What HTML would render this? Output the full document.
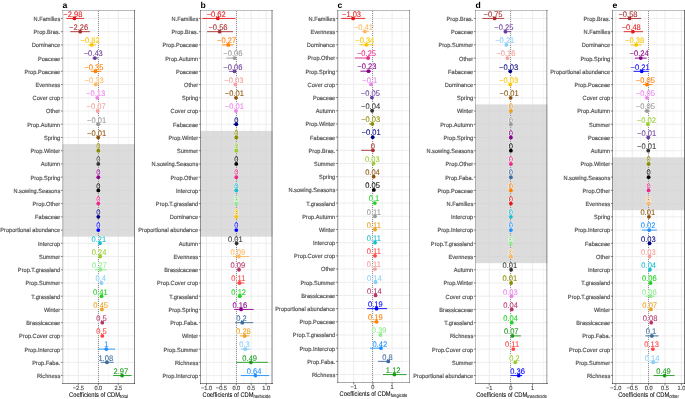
<!DOCTYPE html><html><head><meta charset="utf-8"><style>html,body{margin:0;padding:0;background:#fff;overflow:hidden;width:685px;height:399px;}svg{display:block;will-change:transform;}text{font-family:"Liberation Sans",sans-serif;text-rendering:geometricPrecision;}</style></head><body>
<svg width="685" height="399" viewBox="0 0 685 399">
<rect x="0" y="0" width="685" height="399" fill="#fff"/>
<line x1="68.30" y1="10.5" x2="68.30" y2="383.5" stroke="#f2f2f2" stroke-width="0.6"/>
<line x1="88.30" y1="10.5" x2="88.30" y2="383.5" stroke="#f2f2f2" stroke-width="0.6"/>
<line x1="108.30" y1="10.5" x2="108.30" y2="383.5" stroke="#f2f2f2" stroke-width="0.6"/>
<line x1="128.30" y1="10.5" x2="128.30" y2="383.5" stroke="#f2f2f2" stroke-width="0.6"/>
<line x1="78.30" y1="10.5" x2="78.30" y2="383.5" stroke="#ebebeb" stroke-width="0.9"/>
<line x1="98.30" y1="10.5" x2="98.30" y2="383.5" stroke="#ebebeb" stroke-width="0.9"/>
<line x1="118.30" y1="10.5" x2="118.30" y2="383.5" stroke="#ebebeb" stroke-width="0.9"/>
<line x1="62.5" y1="18.44" x2="134.5" y2="18.44" stroke="#ebebeb" stroke-width="0.9"/>
<line x1="62.5" y1="31.66" x2="134.5" y2="31.66" stroke="#ebebeb" stroke-width="0.9"/>
<line x1="62.5" y1="44.89" x2="134.5" y2="44.89" stroke="#ebebeb" stroke-width="0.9"/>
<line x1="62.5" y1="58.12" x2="134.5" y2="58.12" stroke="#ebebeb" stroke-width="0.9"/>
<line x1="62.5" y1="71.34" x2="134.5" y2="71.34" stroke="#ebebeb" stroke-width="0.9"/>
<line x1="62.5" y1="84.57" x2="134.5" y2="84.57" stroke="#ebebeb" stroke-width="0.9"/>
<line x1="62.5" y1="97.80" x2="134.5" y2="97.80" stroke="#ebebeb" stroke-width="0.9"/>
<line x1="62.5" y1="111.02" x2="134.5" y2="111.02" stroke="#ebebeb" stroke-width="0.9"/>
<line x1="62.5" y1="124.25" x2="134.5" y2="124.25" stroke="#ebebeb" stroke-width="0.9"/>
<line x1="62.5" y1="137.48" x2="134.5" y2="137.48" stroke="#ebebeb" stroke-width="0.9"/>
<line x1="62.5" y1="150.71" x2="134.5" y2="150.71" stroke="#ebebeb" stroke-width="0.9"/>
<line x1="62.5" y1="163.93" x2="134.5" y2="163.93" stroke="#ebebeb" stroke-width="0.9"/>
<line x1="62.5" y1="177.16" x2="134.5" y2="177.16" stroke="#ebebeb" stroke-width="0.9"/>
<line x1="62.5" y1="190.39" x2="134.5" y2="190.39" stroke="#ebebeb" stroke-width="0.9"/>
<line x1="62.5" y1="203.61" x2="134.5" y2="203.61" stroke="#ebebeb" stroke-width="0.9"/>
<line x1="62.5" y1="216.84" x2="134.5" y2="216.84" stroke="#ebebeb" stroke-width="0.9"/>
<line x1="62.5" y1="230.07" x2="134.5" y2="230.07" stroke="#ebebeb" stroke-width="0.9"/>
<line x1="62.5" y1="243.29" x2="134.5" y2="243.29" stroke="#ebebeb" stroke-width="0.9"/>
<line x1="62.5" y1="256.52" x2="134.5" y2="256.52" stroke="#ebebeb" stroke-width="0.9"/>
<line x1="62.5" y1="269.75" x2="134.5" y2="269.75" stroke="#ebebeb" stroke-width="0.9"/>
<line x1="62.5" y1="282.98" x2="134.5" y2="282.98" stroke="#ebebeb" stroke-width="0.9"/>
<line x1="62.5" y1="296.20" x2="134.5" y2="296.20" stroke="#ebebeb" stroke-width="0.9"/>
<line x1="62.5" y1="309.43" x2="134.5" y2="309.43" stroke="#ebebeb" stroke-width="0.9"/>
<line x1="62.5" y1="322.66" x2="134.5" y2="322.66" stroke="#ebebeb" stroke-width="0.9"/>
<line x1="62.5" y1="335.88" x2="134.5" y2="335.88" stroke="#ebebeb" stroke-width="0.9"/>
<line x1="62.5" y1="349.11" x2="134.5" y2="349.11" stroke="#ebebeb" stroke-width="0.9"/>
<line x1="62.5" y1="362.34" x2="134.5" y2="362.34" stroke="#ebebeb" stroke-width="0.9"/>
<line x1="62.5" y1="375.56" x2="134.5" y2="375.56" stroke="#ebebeb" stroke-width="0.9"/>
<rect x="62.5" y="144.09" width="72" height="92.59" fill="#d0d0d0" fill-opacity="0.75"/>
<line x1="98.5" y1="11" x2="98.5" y2="383.5" stroke="#909090" stroke-width="1" stroke-dasharray="1,1"/>
<text transform="translate(72.86,16.74) scale(1,1.08)" font-size="7.55" fill="#fff" fill-opacity="0.85" stroke="#fff" stroke-width="1.1" stroke-opacity="0.85" stroke-linejoin="round" text-anchor="middle">−2.98</text>
<text transform="translate(72.86,16.74) scale(1,1.08)" font-size="7.55" fill="#E31A1C" stroke="#E31A1C" stroke-width="0.08" text-anchor="middle">−2.98</text>
<text transform="translate(78.62,29.96) scale(1,1.08)" font-size="7.55" fill="#fff" fill-opacity="0.85" stroke="#fff" stroke-width="1.1" stroke-opacity="0.85" stroke-linejoin="round" text-anchor="middle">−2.26</text>
<text transform="translate(78.62,29.96) scale(1,1.08)" font-size="7.55" fill="#A82E30" stroke="#A82E30" stroke-width="0.08" text-anchor="middle">−2.26</text>
<text transform="translate(90.14,43.19) scale(1,1.08)" font-size="7.55" fill="#fff" fill-opacity="0.85" stroke="#fff" stroke-width="1.1" stroke-opacity="0.85" stroke-linejoin="round" text-anchor="middle">−0.82</text>
<text transform="translate(90.14,43.19) scale(1,1.08)" font-size="7.55" fill="#F7C600" stroke="#F7C600" stroke-width="0.08" text-anchor="middle">−0.82</text>
<text transform="translate(93.26,56.42) scale(1,1.08)" font-size="7.55" fill="#fff" fill-opacity="0.85" stroke="#fff" stroke-width="1.1" stroke-opacity="0.85" stroke-linejoin="round" text-anchor="middle">−0.43</text>
<text transform="translate(93.26,56.42) scale(1,1.08)" font-size="7.55" fill="#6A3D9A" stroke="#6A3D9A" stroke-width="0.08" text-anchor="middle">−0.43</text>
<text transform="translate(93.90,69.64) scale(1,1.08)" font-size="7.55" fill="#fff" fill-opacity="0.85" stroke="#fff" stroke-width="1.1" stroke-opacity="0.85" stroke-linejoin="round" text-anchor="middle">−0.35</text>
<text transform="translate(93.90,69.64) scale(1,1.08)" font-size="7.55" fill="#FF7F00" stroke="#FF7F00" stroke-width="0.08" text-anchor="middle">−0.35</text>
<text transform="translate(94.06,82.87) scale(1,1.08)" font-size="7.55" fill="#fff" fill-opacity="0.85" stroke="#fff" stroke-width="1.1" stroke-opacity="0.85" stroke-linejoin="round" text-anchor="middle">−0.33</text>
<text transform="translate(94.06,82.87) scale(1,1.08)" font-size="7.55" fill="#FDB863" stroke="#FDB863" stroke-width="0.08" text-anchor="middle">−0.33</text>
<text transform="translate(95.66,96.10) scale(1,1.08)" font-size="7.55" fill="#fff" fill-opacity="0.85" stroke="#fff" stroke-width="1.1" stroke-opacity="0.85" stroke-linejoin="round" text-anchor="middle">−0.13</text>
<text transform="translate(95.66,96.10) scale(1,1.08)" font-size="7.55" fill="#EE82EE" stroke="#EE82EE" stroke-width="0.08" text-anchor="middle">−0.13</text>
<text transform="translate(96.14,109.32) scale(1,1.08)" font-size="7.55" fill="#fff" fill-opacity="0.85" stroke="#fff" stroke-width="1.1" stroke-opacity="0.85" stroke-linejoin="round" text-anchor="middle">−0.07</text>
<text transform="translate(96.14,109.32) scale(1,1.08)" font-size="7.55" fill="#F4A09C" stroke="#F4A09C" stroke-width="0.08" text-anchor="middle">−0.07</text>
<text transform="translate(96.62,122.55) scale(1,1.08)" font-size="7.55" fill="#fff" fill-opacity="0.85" stroke="#fff" stroke-width="1.1" stroke-opacity="0.85" stroke-linejoin="round" text-anchor="middle">−0.01</text>
<text transform="translate(96.62,122.55) scale(1,1.08)" font-size="7.55" fill="#999999" stroke="#999999" stroke-width="0.08" text-anchor="middle">−0.01</text>
<text transform="translate(96.62,135.78) scale(1,1.08)" font-size="7.55" fill="#fff" fill-opacity="0.85" stroke="#fff" stroke-width="1.1" stroke-opacity="0.85" stroke-linejoin="round" text-anchor="middle">−0.01</text>
<text transform="translate(96.62,135.78) scale(1,1.08)" font-size="7.55" fill="#8C510A" stroke="#8C510A" stroke-width="0.08" text-anchor="middle">−0.01</text>
<text transform="translate(98.30,149.01) scale(1,1.08)" font-size="7.55" fill="#fff" fill-opacity="0.85" stroke="#fff" stroke-width="1.1" stroke-opacity="0.85" stroke-linejoin="round" text-anchor="middle">0</text>
<text transform="translate(98.30,149.01) scale(1,1.08)" font-size="7.55" fill="#8B8B00" stroke="#8B8B00" stroke-width="0.08" text-anchor="middle">0</text>
<text transform="translate(98.30,162.23) scale(1,1.08)" font-size="7.55" fill="#fff" fill-opacity="0.85" stroke="#fff" stroke-width="1.1" stroke-opacity="0.85" stroke-linejoin="round" text-anchor="middle">0</text>
<text transform="translate(98.30,162.23) scale(1,1.08)" font-size="7.55" fill="#333333" stroke="#333333" stroke-width="0.08" text-anchor="middle">0</text>
<text transform="translate(98.30,175.46) scale(1,1.08)" font-size="7.55" fill="#fff" fill-opacity="0.85" stroke="#fff" stroke-width="1.1" stroke-opacity="0.85" stroke-linejoin="round" text-anchor="middle">0</text>
<text transform="translate(98.30,175.46) scale(1,1.08)" font-size="7.55" fill="#8B008B" stroke="#8B008B" stroke-width="0.08" text-anchor="middle">0</text>
<text transform="translate(98.30,188.69) scale(1,1.08)" font-size="7.55" fill="#fff" fill-opacity="0.85" stroke="#fff" stroke-width="1.1" stroke-opacity="0.85" stroke-linejoin="round" text-anchor="middle">0</text>
<text transform="translate(98.30,188.69) scale(1,1.08)" font-size="7.55" fill="#000000" stroke="#000000" stroke-width="0.08" text-anchor="middle">0</text>
<text transform="translate(98.30,201.91) scale(1,1.08)" font-size="7.55" fill="#fff" fill-opacity="0.85" stroke="#fff" stroke-width="1.1" stroke-opacity="0.85" stroke-linejoin="round" text-anchor="middle">0</text>
<text transform="translate(98.30,201.91) scale(1,1.08)" font-size="7.55" fill="#E7298A" stroke="#E7298A" stroke-width="0.08" text-anchor="middle">0</text>
<text transform="translate(98.30,215.14) scale(1,1.08)" font-size="7.55" fill="#fff" fill-opacity="0.85" stroke="#fff" stroke-width="1.1" stroke-opacity="0.85" stroke-linejoin="round" text-anchor="middle">0</text>
<text transform="translate(98.30,215.14) scale(1,1.08)" font-size="7.55" fill="#000080" stroke="#000080" stroke-width="0.08" text-anchor="middle">0</text>
<text transform="translate(98.30,228.37) scale(1,1.08)" font-size="7.55" fill="#fff" fill-opacity="0.85" stroke="#fff" stroke-width="1.1" stroke-opacity="0.85" stroke-linejoin="round" text-anchor="middle">0</text>
<text transform="translate(98.30,228.37) scale(1,1.08)" font-size="7.55" fill="#0000FF" stroke="#0000FF" stroke-width="0.08" text-anchor="middle">0</text>
<text transform="translate(98.78,241.59) scale(1,1.08)" font-size="7.55" fill="#fff" fill-opacity="0.85" stroke="#fff" stroke-width="1.1" stroke-opacity="0.85" stroke-linejoin="round" text-anchor="middle">0.21</text>
<text transform="translate(98.78,241.59) scale(1,1.08)" font-size="7.55" fill="#17BECF" stroke="#17BECF" stroke-width="0.08" text-anchor="middle">0.21</text>
<text transform="translate(99.02,254.82) scale(1,1.08)" font-size="7.55" fill="#fff" fill-opacity="0.85" stroke="#fff" stroke-width="1.1" stroke-opacity="0.85" stroke-linejoin="round" text-anchor="middle">0.24</text>
<text transform="translate(99.02,254.82) scale(1,1.08)" font-size="7.55" fill="#9ACD32" stroke="#9ACD32" stroke-width="0.08" text-anchor="middle">0.24</text>
<text transform="translate(99.26,268.05) scale(1,1.08)" font-size="7.55" fill="#fff" fill-opacity="0.85" stroke="#fff" stroke-width="1.1" stroke-opacity="0.85" stroke-linejoin="round" text-anchor="middle">0.27</text>
<text transform="translate(99.26,268.05) scale(1,1.08)" font-size="7.55" fill="#90EE90" stroke="#90EE90" stroke-width="0.08" text-anchor="middle">0.27</text>
<text transform="translate(100.70,281.28) scale(1,1.08)" font-size="7.55" fill="#fff" fill-opacity="0.85" stroke="#fff" stroke-width="1.1" stroke-opacity="0.85" stroke-linejoin="round" text-anchor="middle">0.4</text>
<text transform="translate(100.70,281.28) scale(1,1.08)" font-size="7.55" fill="#87CEFA" stroke="#87CEFA" stroke-width="0.08" text-anchor="middle">0.4</text>
<text transform="translate(100.38,294.50) scale(1,1.08)" font-size="7.55" fill="#fff" fill-opacity="0.85" stroke="#fff" stroke-width="1.1" stroke-opacity="0.85" stroke-linejoin="round" text-anchor="middle">0.41</text>
<text transform="translate(100.38,294.50) scale(1,1.08)" font-size="7.55" fill="#1ED41E" stroke="#1ED41E" stroke-width="0.08" text-anchor="middle">0.41</text>
<text transform="translate(100.70,307.73) scale(1,1.08)" font-size="7.55" fill="#fff" fill-opacity="0.85" stroke="#fff" stroke-width="1.1" stroke-opacity="0.85" stroke-linejoin="round" text-anchor="middle">0.45</text>
<text transform="translate(100.70,307.73) scale(1,1.08)" font-size="7.55" fill="#EEA020" stroke="#EEA020" stroke-width="0.08" text-anchor="middle">0.45</text>
<text transform="translate(101.50,320.96) scale(1,1.08)" font-size="7.55" fill="#fff" fill-opacity="0.85" stroke="#fff" stroke-width="1.1" stroke-opacity="0.85" stroke-linejoin="round" text-anchor="middle">0.5</text>
<text transform="translate(101.50,320.96) scale(1,1.08)" font-size="7.55" fill="#B5356A" stroke="#B5356A" stroke-width="0.08" text-anchor="middle">0.5</text>
<text transform="translate(101.50,334.18) scale(1,1.08)" font-size="7.55" fill="#fff" fill-opacity="0.85" stroke="#fff" stroke-width="1.1" stroke-opacity="0.85" stroke-linejoin="round" text-anchor="middle">0.5</text>
<text transform="translate(101.50,334.18) scale(1,1.08)" font-size="7.55" fill="#FF4444" stroke="#FF4444" stroke-width="0.08" text-anchor="middle">0.5</text>
<text transform="translate(106.30,347.41) scale(1,1.08)" font-size="7.55" fill="#fff" fill-opacity="0.85" stroke="#fff" stroke-width="1.1" stroke-opacity="0.85" stroke-linejoin="round" text-anchor="middle">1</text>
<text transform="translate(106.30,347.41) scale(1,1.08)" font-size="7.55" fill="#1E90FF" stroke="#1E90FF" stroke-width="0.08" text-anchor="middle">1</text>
<text transform="translate(105.74,360.64) scale(1,1.08)" font-size="7.55" fill="#fff" fill-opacity="0.85" stroke="#fff" stroke-width="1.1" stroke-opacity="0.85" stroke-linejoin="round" text-anchor="middle">1.08</text>
<text transform="translate(105.74,360.64) scale(1,1.08)" font-size="7.55" fill="#3A6B9E" stroke="#3A6B9E" stroke-width="0.08" text-anchor="middle">1.08</text>
<text transform="translate(120.86,373.86) scale(1,1.08)" font-size="7.55" fill="#fff" fill-opacity="0.85" stroke="#fff" stroke-width="1.1" stroke-opacity="0.85" stroke-linejoin="round" text-anchor="middle">2.97</text>
<text transform="translate(120.86,373.86) scale(1,1.08)" font-size="7.55" fill="#1A9A1A" stroke="#1A9A1A" stroke-width="0.08" text-anchor="middle">2.97</text>
<line x1="66.30" y1="18.44" x2="83.98" y2="18.44" stroke="#E31A1C" stroke-width="0.9"/>
<circle cx="74.46" cy="18.44" r="1.9" fill="#E31A1C"/>
<line x1="70.30" y1="31.66" x2="89.98" y2="31.66" stroke="#A82E30" stroke-width="0.9"/>
<circle cx="80.22" cy="31.66" r="1.9" fill="#A82E30"/>
<line x1="88.38" y1="44.89" x2="95.98" y2="44.89" stroke="#F7C600" stroke-width="0.9"/>
<circle cx="91.74" cy="44.89" r="1.9" fill="#F7C600"/>
<line x1="92.46" y1="58.12" x2="97.98" y2="58.12" stroke="#6A3D9A" stroke-width="0.9"/>
<circle cx="94.86" cy="58.12" r="1.9" fill="#6A3D9A"/>
<line x1="90.78" y1="71.34" x2="101.34" y2="71.34" stroke="#FF7F00" stroke-width="0.9"/>
<circle cx="95.50" cy="71.34" r="1.9" fill="#FF7F00"/>
<line x1="93.66" y1="84.57" x2="98.54" y2="84.57" stroke="#FDB863" stroke-width="0.9"/>
<circle cx="95.66" cy="84.57" r="1.9" fill="#FDB863"/>
<line x1="96.70" y1="97.80" x2="97.90" y2="97.80" stroke="#EE82EE" stroke-width="0.9"/>
<circle cx="97.26" cy="97.80" r="1.9" fill="#EE82EE"/>
<line x1="97.10" y1="111.02" x2="98.30" y2="111.02" stroke="#F4A09C" stroke-width="0.9"/>
<circle cx="97.74" cy="111.02" r="1.9" fill="#F4A09C"/>
<line x1="95.90" y1="124.25" x2="100.46" y2="124.25" stroke="#999999" stroke-width="0.9"/>
<circle cx="98.22" cy="124.25" r="1.9" fill="#999999"/>
<line x1="97.66" y1="137.48" x2="98.78" y2="137.48" stroke="#8C510A" stroke-width="0.9"/>
<circle cx="98.22" cy="137.48" r="1.9" fill="#8C510A"/>
<circle cx="98.30" cy="150.71" r="1.9" fill="#8B8B00"/>
<circle cx="98.30" cy="163.93" r="1.9" fill="#333333"/>
<circle cx="98.30" cy="177.16" r="1.9" fill="#8B008B"/>
<circle cx="98.30" cy="190.39" r="1.9" fill="#000000"/>
<circle cx="98.30" cy="203.61" r="1.9" fill="#E7298A"/>
<circle cx="98.30" cy="216.84" r="1.9" fill="#000080"/>
<circle cx="98.30" cy="230.07" r="1.9" fill="#0000FF"/>
<line x1="99.26" y1="243.29" x2="100.70" y2="243.29" stroke="#17BECF" stroke-width="0.9"/>
<circle cx="99.98" cy="243.29" r="1.9" fill="#17BECF"/>
<line x1="99.50" y1="256.52" x2="100.94" y2="256.52" stroke="#9ACD32" stroke-width="0.9"/>
<circle cx="100.22" cy="256.52" r="1.9" fill="#9ACD32"/>
<line x1="94.94" y1="269.75" x2="106.86" y2="269.75" stroke="#90EE90" stroke-width="0.9"/>
<circle cx="100.46" cy="269.75" r="1.9" fill="#90EE90"/>
<line x1="99.90" y1="282.98" x2="103.10" y2="282.98" stroke="#87CEFA" stroke-width="0.9"/>
<circle cx="101.50" cy="282.98" r="1.9" fill="#87CEFA"/>
<line x1="100.94" y1="296.20" x2="102.22" y2="296.20" stroke="#1ED41E" stroke-width="0.9"/>
<circle cx="101.58" cy="296.20" r="1.9" fill="#1ED41E"/>
<line x1="100.70" y1="309.43" x2="103.10" y2="309.43" stroke="#EEA020" stroke-width="0.9"/>
<circle cx="101.90" cy="309.43" r="1.9" fill="#EEA020"/>
<line x1="101.66" y1="322.66" x2="102.94" y2="322.66" stroke="#B5356A" stroke-width="0.9"/>
<circle cx="102.30" cy="322.66" r="1.9" fill="#B5356A"/>
<line x1="101.66" y1="335.88" x2="102.94" y2="335.88" stroke="#FF4444" stroke-width="0.9"/>
<circle cx="102.30" cy="335.88" r="1.9" fill="#FF4444"/>
<line x1="97.98" y1="349.11" x2="115.10" y2="349.11" stroke="#1E90FF" stroke-width="0.9"/>
<circle cx="106.30" cy="349.11" r="1.9" fill="#1E90FF"/>
<line x1="100.78" y1="362.34" x2="113.66" y2="362.34" stroke="#3A6B9E" stroke-width="0.9"/>
<circle cx="106.94" cy="362.34" r="1.9" fill="#3A6B9E"/>
<line x1="113.18" y1="375.56" x2="131.58" y2="375.56" stroke="#1A9A1A" stroke-width="0.9"/>
<circle cx="122.06" cy="375.56" r="1.9" fill="#1A9A1A"/>
<text transform="translate(60.20,20.84) scale(1,1.06)" font-size="5.65" fill="#4d4d4d" stroke="#4d4d4d" stroke-width="0.15" text-anchor="end">N.Families</text>
<line x1="60.9" y1="18.44" x2="62.5" y2="18.44" stroke="#333" stroke-width="0.6"/>
<text transform="translate(60.20,34.06) scale(1,1.06)" font-size="5.65" fill="#4d4d4d" stroke="#4d4d4d" stroke-width="0.15" text-anchor="end">Prop.Bras.</text>
<line x1="60.9" y1="31.66" x2="62.5" y2="31.66" stroke="#333" stroke-width="0.6"/>
<text transform="translate(60.20,47.29) scale(1,1.06)" font-size="5.65" fill="#4d4d4d" stroke="#4d4d4d" stroke-width="0.15" text-anchor="end">Dominance</text>
<line x1="60.9" y1="44.89" x2="62.5" y2="44.89" stroke="#333" stroke-width="0.6"/>
<text transform="translate(60.20,60.52) scale(1,1.06)" font-size="5.65" fill="#4d4d4d" stroke="#4d4d4d" stroke-width="0.15" text-anchor="end">Poaceae</text>
<line x1="60.9" y1="58.12" x2="62.5" y2="58.12" stroke="#333" stroke-width="0.6"/>
<text transform="translate(60.20,73.74) scale(1,1.06)" font-size="5.65" fill="#4d4d4d" stroke="#4d4d4d" stroke-width="0.15" text-anchor="end">Prop.Poaceae</text>
<line x1="60.9" y1="71.34" x2="62.5" y2="71.34" stroke="#333" stroke-width="0.6"/>
<text transform="translate(60.20,86.97) scale(1,1.06)" font-size="5.65" fill="#4d4d4d" stroke="#4d4d4d" stroke-width="0.15" text-anchor="end">Evenness</text>
<line x1="60.9" y1="84.57" x2="62.5" y2="84.57" stroke="#333" stroke-width="0.6"/>
<text transform="translate(60.20,100.20) scale(1,1.06)" font-size="5.65" fill="#4d4d4d" stroke="#4d4d4d" stroke-width="0.15" text-anchor="end">Cover crop</text>
<line x1="60.9" y1="97.80" x2="62.5" y2="97.80" stroke="#333" stroke-width="0.6"/>
<text transform="translate(60.20,113.42) scale(1,1.06)" font-size="5.65" fill="#4d4d4d" stroke="#4d4d4d" stroke-width="0.15" text-anchor="end">Other</text>
<line x1="60.9" y1="111.02" x2="62.5" y2="111.02" stroke="#333" stroke-width="0.6"/>
<text transform="translate(60.20,126.65) scale(1,1.06)" font-size="5.65" fill="#4d4d4d" stroke="#4d4d4d" stroke-width="0.15" text-anchor="end">Prop.Autumn</text>
<line x1="60.9" y1="124.25" x2="62.5" y2="124.25" stroke="#333" stroke-width="0.6"/>
<text transform="translate(60.20,139.88) scale(1,1.06)" font-size="5.65" fill="#4d4d4d" stroke="#4d4d4d" stroke-width="0.15" text-anchor="end">Spring</text>
<line x1="60.9" y1="137.48" x2="62.5" y2="137.48" stroke="#333" stroke-width="0.6"/>
<text transform="translate(60.20,153.11) scale(1,1.06)" font-size="5.65" fill="#4d4d4d" stroke="#4d4d4d" stroke-width="0.15" text-anchor="end">Prop.Winter</text>
<line x1="60.9" y1="150.71" x2="62.5" y2="150.71" stroke="#333" stroke-width="0.6"/>
<text transform="translate(60.20,166.33) scale(1,1.06)" font-size="5.65" fill="#4d4d4d" stroke="#4d4d4d" stroke-width="0.15" text-anchor="end">Autumn</text>
<line x1="60.9" y1="163.93" x2="62.5" y2="163.93" stroke="#333" stroke-width="0.6"/>
<text transform="translate(60.20,179.56) scale(1,1.06)" font-size="5.65" fill="#4d4d4d" stroke="#4d4d4d" stroke-width="0.15" text-anchor="end">Prop.Spring</text>
<line x1="60.9" y1="177.16" x2="62.5" y2="177.16" stroke="#333" stroke-width="0.6"/>
<text transform="translate(60.20,192.79) scale(1,1.06)" font-size="5.65" fill="#4d4d4d" stroke="#4d4d4d" stroke-width="0.15" text-anchor="end">N.sowing.Seasons</text>
<line x1="60.9" y1="190.39" x2="62.5" y2="190.39" stroke="#333" stroke-width="0.6"/>
<text transform="translate(60.20,206.01) scale(1,1.06)" font-size="5.65" fill="#4d4d4d" stroke="#4d4d4d" stroke-width="0.15" text-anchor="end">Prop.Other</text>
<line x1="60.9" y1="203.61" x2="62.5" y2="203.61" stroke="#333" stroke-width="0.6"/>
<text transform="translate(60.20,219.24) scale(1,1.06)" font-size="5.65" fill="#4d4d4d" stroke="#4d4d4d" stroke-width="0.15" text-anchor="end">Fabaceae</text>
<line x1="60.9" y1="216.84" x2="62.5" y2="216.84" stroke="#333" stroke-width="0.6"/>
<text transform="translate(60.20,232.47) scale(1,1.06)" font-size="5.65" fill="#4d4d4d" stroke="#4d4d4d" stroke-width="0.15" text-anchor="end">Proportional abundance</text>
<line x1="60.9" y1="230.07" x2="62.5" y2="230.07" stroke="#333" stroke-width="0.6"/>
<text transform="translate(60.20,245.69) scale(1,1.06)" font-size="5.65" fill="#4d4d4d" stroke="#4d4d4d" stroke-width="0.15" text-anchor="end">Intercrop</text>
<line x1="60.9" y1="243.29" x2="62.5" y2="243.29" stroke="#333" stroke-width="0.6"/>
<text transform="translate(60.20,258.92) scale(1,1.06)" font-size="5.65" fill="#4d4d4d" stroke="#4d4d4d" stroke-width="0.15" text-anchor="end">Summer</text>
<line x1="60.9" y1="256.52" x2="62.5" y2="256.52" stroke="#333" stroke-width="0.6"/>
<text transform="translate(60.20,272.15) scale(1,1.06)" font-size="5.65" fill="#4d4d4d" stroke="#4d4d4d" stroke-width="0.15" text-anchor="end">Prop.T.grassland</text>
<line x1="60.9" y1="269.75" x2="62.5" y2="269.75" stroke="#333" stroke-width="0.6"/>
<text transform="translate(60.20,285.38) scale(1,1.06)" font-size="5.65" fill="#4d4d4d" stroke="#4d4d4d" stroke-width="0.15" text-anchor="end">Prop.Summer</text>
<line x1="60.9" y1="282.98" x2="62.5" y2="282.98" stroke="#333" stroke-width="0.6"/>
<text transform="translate(60.20,298.60) scale(1,1.06)" font-size="5.65" fill="#4d4d4d" stroke="#4d4d4d" stroke-width="0.15" text-anchor="end">T.grassland</text>
<line x1="60.9" y1="296.20" x2="62.5" y2="296.20" stroke="#333" stroke-width="0.6"/>
<text transform="translate(60.20,311.83) scale(1,1.06)" font-size="5.65" fill="#4d4d4d" stroke="#4d4d4d" stroke-width="0.15" text-anchor="end">Winter</text>
<line x1="60.9" y1="309.43" x2="62.5" y2="309.43" stroke="#333" stroke-width="0.6"/>
<text transform="translate(60.20,325.06) scale(1,1.06)" font-size="5.65" fill="#4d4d4d" stroke="#4d4d4d" stroke-width="0.15" text-anchor="end">Brassicaceae</text>
<line x1="60.9" y1="322.66" x2="62.5" y2="322.66" stroke="#333" stroke-width="0.6"/>
<text transform="translate(60.20,338.28) scale(1,1.06)" font-size="5.65" fill="#4d4d4d" stroke="#4d4d4d" stroke-width="0.15" text-anchor="end">Prop.Cover crop</text>
<line x1="60.9" y1="335.88" x2="62.5" y2="335.88" stroke="#333" stroke-width="0.6"/>
<text transform="translate(60.20,351.51) scale(1,1.06)" font-size="5.65" fill="#4d4d4d" stroke="#4d4d4d" stroke-width="0.15" text-anchor="end">Prop.Intercrop</text>
<line x1="60.9" y1="349.11" x2="62.5" y2="349.11" stroke="#333" stroke-width="0.6"/>
<text transform="translate(60.20,364.74) scale(1,1.06)" font-size="5.65" fill="#4d4d4d" stroke="#4d4d4d" stroke-width="0.15" text-anchor="end">Prop.Faba.</text>
<line x1="60.9" y1="362.34" x2="62.5" y2="362.34" stroke="#333" stroke-width="0.6"/>
<text transform="translate(60.20,377.96) scale(1,1.06)" font-size="5.65" fill="#4d4d4d" stroke="#4d4d4d" stroke-width="0.15" text-anchor="end">Richness</text>
<line x1="60.9" y1="375.56" x2="62.5" y2="375.56" stroke="#333" stroke-width="0.6"/>
<rect x="62" y="10" width="73" height="1" fill="#000" fill-opacity="0.267"/>
<rect x="62" y="10" width="1" height="374" fill="#000" fill-opacity="0.184"/>
<rect x="63" y="11" width="1" height="372" fill="#000" fill-opacity="0.075"/>
<rect x="134" y="10" width="1" height="374" fill="#000" fill-opacity="0.467"/>
<rect x="62" y="383" width="73" height="1" fill="#000" fill-opacity="0.467"/>
<line x1="78.30" y1="383.5" x2="78.30" y2="385.5" stroke="#333" stroke-width="0.6"/>
<text transform="translate(78.30,390.40) scale(1,1.06)" font-size="5.65" fill="#4d4d4d" stroke="#4d4d4d" stroke-width="0.15" text-anchor="middle">−2.5</text>
<line x1="98.30" y1="383.5" x2="98.30" y2="385.5" stroke="#333" stroke-width="0.6"/>
<text transform="translate(98.30,390.40) scale(1,1.06)" font-size="5.65" fill="#4d4d4d" stroke="#4d4d4d" stroke-width="0.15" text-anchor="middle">0.0</text>
<line x1="118.30" y1="383.5" x2="118.30" y2="385.5" stroke="#333" stroke-width="0.6"/>
<text transform="translate(118.30,390.40) scale(1,1.06)" font-size="5.65" fill="#4d4d4d" stroke="#4d4d4d" stroke-width="0.15" text-anchor="middle">2.5</text>
<text transform="translate(98.50,396.80) scale(1,1.18)" font-size="5.75" fill="#000" stroke="#000" stroke-width="0.05" text-anchor="middle">Coefficients of CDM<tspan font-size="4.2" dy="1" stroke-width="0.04">total</tspan></text>
<text x="62.50" y="8.1" font-size="8.6" font-weight="bold" fill="#000">a</text>
<line x1="213.95" y1="10.5" x2="213.95" y2="383.5" stroke="#f2f2f2" stroke-width="0.6"/>
<line x1="228.85" y1="10.5" x2="228.85" y2="383.5" stroke="#f2f2f2" stroke-width="0.6"/>
<line x1="243.75" y1="10.5" x2="243.75" y2="383.5" stroke="#f2f2f2" stroke-width="0.6"/>
<line x1="258.65" y1="10.5" x2="258.65" y2="383.5" stroke="#f2f2f2" stroke-width="0.6"/>
<line x1="206.50" y1="10.5" x2="206.50" y2="383.5" stroke="#ebebeb" stroke-width="0.9"/>
<line x1="221.40" y1="10.5" x2="221.40" y2="383.5" stroke="#ebebeb" stroke-width="0.9"/>
<line x1="236.30" y1="10.5" x2="236.30" y2="383.5" stroke="#ebebeb" stroke-width="0.9"/>
<line x1="251.20" y1="10.5" x2="251.20" y2="383.5" stroke="#ebebeb" stroke-width="0.9"/>
<line x1="266.10" y1="10.5" x2="266.10" y2="383.5" stroke="#ebebeb" stroke-width="0.9"/>
<line x1="200.5" y1="18.44" x2="272.5" y2="18.44" stroke="#ebebeb" stroke-width="0.9"/>
<line x1="200.5" y1="31.66" x2="272.5" y2="31.66" stroke="#ebebeb" stroke-width="0.9"/>
<line x1="200.5" y1="44.89" x2="272.5" y2="44.89" stroke="#ebebeb" stroke-width="0.9"/>
<line x1="200.5" y1="58.12" x2="272.5" y2="58.12" stroke="#ebebeb" stroke-width="0.9"/>
<line x1="200.5" y1="71.34" x2="272.5" y2="71.34" stroke="#ebebeb" stroke-width="0.9"/>
<line x1="200.5" y1="84.57" x2="272.5" y2="84.57" stroke="#ebebeb" stroke-width="0.9"/>
<line x1="200.5" y1="97.80" x2="272.5" y2="97.80" stroke="#ebebeb" stroke-width="0.9"/>
<line x1="200.5" y1="111.02" x2="272.5" y2="111.02" stroke="#ebebeb" stroke-width="0.9"/>
<line x1="200.5" y1="124.25" x2="272.5" y2="124.25" stroke="#ebebeb" stroke-width="0.9"/>
<line x1="200.5" y1="137.48" x2="272.5" y2="137.48" stroke="#ebebeb" stroke-width="0.9"/>
<line x1="200.5" y1="150.71" x2="272.5" y2="150.71" stroke="#ebebeb" stroke-width="0.9"/>
<line x1="200.5" y1="163.93" x2="272.5" y2="163.93" stroke="#ebebeb" stroke-width="0.9"/>
<line x1="200.5" y1="177.16" x2="272.5" y2="177.16" stroke="#ebebeb" stroke-width="0.9"/>
<line x1="200.5" y1="190.39" x2="272.5" y2="190.39" stroke="#ebebeb" stroke-width="0.9"/>
<line x1="200.5" y1="203.61" x2="272.5" y2="203.61" stroke="#ebebeb" stroke-width="0.9"/>
<line x1="200.5" y1="216.84" x2="272.5" y2="216.84" stroke="#ebebeb" stroke-width="0.9"/>
<line x1="200.5" y1="230.07" x2="272.5" y2="230.07" stroke="#ebebeb" stroke-width="0.9"/>
<line x1="200.5" y1="243.29" x2="272.5" y2="243.29" stroke="#ebebeb" stroke-width="0.9"/>
<line x1="200.5" y1="256.52" x2="272.5" y2="256.52" stroke="#ebebeb" stroke-width="0.9"/>
<line x1="200.5" y1="269.75" x2="272.5" y2="269.75" stroke="#ebebeb" stroke-width="0.9"/>
<line x1="200.5" y1="282.98" x2="272.5" y2="282.98" stroke="#ebebeb" stroke-width="0.9"/>
<line x1="200.5" y1="296.20" x2="272.5" y2="296.20" stroke="#ebebeb" stroke-width="0.9"/>
<line x1="200.5" y1="309.43" x2="272.5" y2="309.43" stroke="#ebebeb" stroke-width="0.9"/>
<line x1="200.5" y1="322.66" x2="272.5" y2="322.66" stroke="#ebebeb" stroke-width="0.9"/>
<line x1="200.5" y1="335.88" x2="272.5" y2="335.88" stroke="#ebebeb" stroke-width="0.9"/>
<line x1="200.5" y1="349.11" x2="272.5" y2="349.11" stroke="#ebebeb" stroke-width="0.9"/>
<line x1="200.5" y1="362.34" x2="272.5" y2="362.34" stroke="#ebebeb" stroke-width="0.9"/>
<line x1="200.5" y1="375.56" x2="272.5" y2="375.56" stroke="#ebebeb" stroke-width="0.9"/>
<rect x="200.5" y="130.87" width="72" height="105.82" fill="#d0d0d0" fill-opacity="0.75"/>
<line x1="236.5" y1="11" x2="236.5" y2="383.5" stroke="#909090" stroke-width="1" stroke-dasharray="1,1"/>
<text transform="translate(216.22,16.74) scale(1,1.08)" font-size="7.55" fill="#fff" fill-opacity="0.85" stroke="#fff" stroke-width="1.1" stroke-opacity="0.85" stroke-linejoin="round" text-anchor="middle">−0.62</text>
<text transform="translate(216.22,16.74) scale(1,1.08)" font-size="7.55" fill="#E31A1C" stroke="#E31A1C" stroke-width="0.08" text-anchor="middle">−0.62</text>
<text transform="translate(218.01,29.96) scale(1,1.08)" font-size="7.55" fill="#fff" fill-opacity="0.85" stroke="#fff" stroke-width="1.1" stroke-opacity="0.85" stroke-linejoin="round" text-anchor="middle">−0.56</text>
<text transform="translate(218.01,29.96) scale(1,1.08)" font-size="7.55" fill="#A82E30" stroke="#A82E30" stroke-width="0.08" text-anchor="middle">−0.56</text>
<text transform="translate(226.65,43.19) scale(1,1.08)" font-size="7.55" fill="#fff" fill-opacity="0.85" stroke="#fff" stroke-width="1.1" stroke-opacity="0.85" stroke-linejoin="round" text-anchor="middle">−0.27</text>
<text transform="translate(226.65,43.19) scale(1,1.08)" font-size="7.55" fill="#FF7F00" stroke="#FF7F00" stroke-width="0.08" text-anchor="middle">−0.27</text>
<text transform="translate(232.91,56.42) scale(1,1.08)" font-size="7.55" fill="#fff" fill-opacity="0.85" stroke="#fff" stroke-width="1.1" stroke-opacity="0.85" stroke-linejoin="round" text-anchor="middle">−0.06</text>
<text transform="translate(232.91,56.42) scale(1,1.08)" font-size="7.55" fill="#999999" stroke="#999999" stroke-width="0.08" text-anchor="middle">−0.06</text>
<text transform="translate(232.91,69.64) scale(1,1.08)" font-size="7.55" fill="#fff" fill-opacity="0.85" stroke="#fff" stroke-width="1.1" stroke-opacity="0.85" stroke-linejoin="round" text-anchor="middle">−0.06</text>
<text transform="translate(232.91,69.64) scale(1,1.08)" font-size="7.55" fill="#6A3D9A" stroke="#6A3D9A" stroke-width="0.08" text-anchor="middle">−0.06</text>
<text transform="translate(233.81,82.87) scale(1,1.08)" font-size="7.55" fill="#fff" fill-opacity="0.85" stroke="#fff" stroke-width="1.1" stroke-opacity="0.85" stroke-linejoin="round" text-anchor="middle">−0.03</text>
<text transform="translate(233.81,82.87) scale(1,1.08)" font-size="7.55" fill="#F4A09C" stroke="#F4A09C" stroke-width="0.08" text-anchor="middle">−0.03</text>
<text transform="translate(234.40,96.10) scale(1,1.08)" font-size="7.55" fill="#fff" fill-opacity="0.85" stroke="#fff" stroke-width="1.1" stroke-opacity="0.85" stroke-linejoin="round" text-anchor="middle">−0.01</text>
<text transform="translate(234.40,96.10) scale(1,1.08)" font-size="7.55" fill="#8C510A" stroke="#8C510A" stroke-width="0.08" text-anchor="middle">−0.01</text>
<text transform="translate(234.40,109.32) scale(1,1.08)" font-size="7.55" fill="#fff" fill-opacity="0.85" stroke="#fff" stroke-width="1.1" stroke-opacity="0.85" stroke-linejoin="round" text-anchor="middle">−0.01</text>
<text transform="translate(234.40,109.32) scale(1,1.08)" font-size="7.55" fill="#EE82EE" stroke="#EE82EE" stroke-width="0.08" text-anchor="middle">−0.01</text>
<text transform="translate(236.30,122.55) scale(1,1.08)" font-size="7.55" fill="#fff" fill-opacity="0.85" stroke="#fff" stroke-width="1.1" stroke-opacity="0.85" stroke-linejoin="round" text-anchor="middle">0</text>
<text transform="translate(236.30,122.55) scale(1,1.08)" font-size="7.55" fill="#000080" stroke="#000080" stroke-width="0.08" text-anchor="middle">0</text>
<text transform="translate(236.30,135.78) scale(1,1.08)" font-size="7.55" fill="#fff" fill-opacity="0.85" stroke="#fff" stroke-width="1.1" stroke-opacity="0.85" stroke-linejoin="round" text-anchor="middle">0</text>
<text transform="translate(236.30,135.78) scale(1,1.08)" font-size="7.55" fill="#8B8B00" stroke="#8B8B00" stroke-width="0.08" text-anchor="middle">0</text>
<text transform="translate(236.30,149.01) scale(1,1.08)" font-size="7.55" fill="#fff" fill-opacity="0.85" stroke="#fff" stroke-width="1.1" stroke-opacity="0.85" stroke-linejoin="round" text-anchor="middle">0</text>
<text transform="translate(236.30,149.01) scale(1,1.08)" font-size="7.55" fill="#9ACD32" stroke="#9ACD32" stroke-width="0.08" text-anchor="middle">0</text>
<text transform="translate(236.30,162.23) scale(1,1.08)" font-size="7.55" fill="#fff" fill-opacity="0.85" stroke="#fff" stroke-width="1.1" stroke-opacity="0.85" stroke-linejoin="round" text-anchor="middle">0</text>
<text transform="translate(236.30,162.23) scale(1,1.08)" font-size="7.55" fill="#000000" stroke="#000000" stroke-width="0.08" text-anchor="middle">0</text>
<text transform="translate(236.30,175.46) scale(1,1.08)" font-size="7.55" fill="#fff" fill-opacity="0.85" stroke="#fff" stroke-width="1.1" stroke-opacity="0.85" stroke-linejoin="round" text-anchor="middle">0</text>
<text transform="translate(236.30,175.46) scale(1,1.08)" font-size="7.55" fill="#E7298A" stroke="#E7298A" stroke-width="0.08" text-anchor="middle">0</text>
<text transform="translate(236.30,188.69) scale(1,1.08)" font-size="7.55" fill="#fff" fill-opacity="0.85" stroke="#fff" stroke-width="1.1" stroke-opacity="0.85" stroke-linejoin="round" text-anchor="middle">0</text>
<text transform="translate(236.30,188.69) scale(1,1.08)" font-size="7.55" fill="#17BECF" stroke="#17BECF" stroke-width="0.08" text-anchor="middle">0</text>
<text transform="translate(236.30,201.91) scale(1,1.08)" font-size="7.55" fill="#fff" fill-opacity="0.85" stroke="#fff" stroke-width="1.1" stroke-opacity="0.85" stroke-linejoin="round" text-anchor="middle">0</text>
<text transform="translate(236.30,201.91) scale(1,1.08)" font-size="7.55" fill="#90EE90" stroke="#90EE90" stroke-width="0.08" text-anchor="middle">0</text>
<text transform="translate(236.30,215.14) scale(1,1.08)" font-size="7.55" fill="#fff" fill-opacity="0.85" stroke="#fff" stroke-width="1.1" stroke-opacity="0.85" stroke-linejoin="round" text-anchor="middle">0</text>
<text transform="translate(236.30,215.14) scale(1,1.08)" font-size="7.55" fill="#F7C600" stroke="#F7C600" stroke-width="0.08" text-anchor="middle">0</text>
<text transform="translate(236.30,228.37) scale(1,1.08)" font-size="7.55" fill="#fff" fill-opacity="0.85" stroke="#fff" stroke-width="1.1" stroke-opacity="0.85" stroke-linejoin="round" text-anchor="middle">0</text>
<text transform="translate(236.30,228.37) scale(1,1.08)" font-size="7.55" fill="#0000FF" stroke="#0000FF" stroke-width="0.08" text-anchor="middle">0</text>
<text transform="translate(235.40,241.59) scale(1,1.08)" font-size="7.55" fill="#fff" fill-opacity="0.85" stroke="#fff" stroke-width="1.1" stroke-opacity="0.85" stroke-linejoin="round" text-anchor="middle">0.01</text>
<text transform="translate(235.40,241.59) scale(1,1.08)" font-size="7.55" fill="#333333" stroke="#333333" stroke-width="0.08" text-anchor="middle">0.01</text>
<text transform="translate(237.78,254.82) scale(1,1.08)" font-size="7.55" fill="#fff" fill-opacity="0.85" stroke="#fff" stroke-width="1.1" stroke-opacity="0.85" stroke-linejoin="round" text-anchor="middle">0.09</text>
<text transform="translate(237.78,254.82) scale(1,1.08)" font-size="7.55" fill="#FDB863" stroke="#FDB863" stroke-width="0.08" text-anchor="middle">0.09</text>
<text transform="translate(237.78,268.05) scale(1,1.08)" font-size="7.55" fill="#fff" fill-opacity="0.85" stroke="#fff" stroke-width="1.1" stroke-opacity="0.85" stroke-linejoin="round" text-anchor="middle">0.09</text>
<text transform="translate(237.78,268.05) scale(1,1.08)" font-size="7.55" fill="#B5356A" stroke="#B5356A" stroke-width="0.08" text-anchor="middle">0.09</text>
<text transform="translate(238.38,281.28) scale(1,1.08)" font-size="7.55" fill="#fff" fill-opacity="0.85" stroke="#fff" stroke-width="1.1" stroke-opacity="0.85" stroke-linejoin="round" text-anchor="middle">0.11</text>
<text transform="translate(238.38,281.28) scale(1,1.08)" font-size="7.55" fill="#FF4444" stroke="#FF4444" stroke-width="0.08" text-anchor="middle">0.11</text>
<text transform="translate(238.68,294.50) scale(1,1.08)" font-size="7.55" fill="#fff" fill-opacity="0.85" stroke="#fff" stroke-width="1.1" stroke-opacity="0.85" stroke-linejoin="round" text-anchor="middle">0.12</text>
<text transform="translate(238.68,294.50) scale(1,1.08)" font-size="7.55" fill="#1ED41E" stroke="#1ED41E" stroke-width="0.08" text-anchor="middle">0.12</text>
<text transform="translate(239.87,307.73) scale(1,1.08)" font-size="7.55" fill="#fff" fill-opacity="0.85" stroke="#fff" stroke-width="1.1" stroke-opacity="0.85" stroke-linejoin="round" text-anchor="middle">0.16</text>
<text transform="translate(239.87,307.73) scale(1,1.08)" font-size="7.55" fill="#8B008B" stroke="#8B008B" stroke-width="0.08" text-anchor="middle">0.16</text>
<text transform="translate(241.46,320.96) scale(1,1.08)" font-size="7.55" fill="#fff" fill-opacity="0.85" stroke="#fff" stroke-width="1.1" stroke-opacity="0.85" stroke-linejoin="round" text-anchor="middle">0.2</text>
<text transform="translate(241.46,320.96) scale(1,1.08)" font-size="7.55" fill="#3A6B9E" stroke="#3A6B9E" stroke-width="0.08" text-anchor="middle">0.2</text>
<text transform="translate(243.44,334.18) scale(1,1.08)" font-size="7.55" fill="#fff" fill-opacity="0.85" stroke="#fff" stroke-width="1.1" stroke-opacity="0.85" stroke-linejoin="round" text-anchor="middle">0.28</text>
<text transform="translate(243.44,334.18) scale(1,1.08)" font-size="7.55" fill="#EEA020" stroke="#EEA020" stroke-width="0.08" text-anchor="middle">0.28</text>
<text transform="translate(244.44,347.41) scale(1,1.08)" font-size="7.55" fill="#fff" fill-opacity="0.85" stroke="#fff" stroke-width="1.1" stroke-opacity="0.85" stroke-linejoin="round" text-anchor="middle">0.3</text>
<text transform="translate(244.44,347.41) scale(1,1.08)" font-size="7.55" fill="#87CEFA" stroke="#87CEFA" stroke-width="0.08" text-anchor="middle">0.3</text>
<text transform="translate(249.70,360.64) scale(1,1.08)" font-size="7.55" fill="#fff" fill-opacity="0.85" stroke="#fff" stroke-width="1.1" stroke-opacity="0.85" stroke-linejoin="round" text-anchor="middle">0.49</text>
<text transform="translate(249.70,360.64) scale(1,1.08)" font-size="7.55" fill="#1A9A1A" stroke="#1A9A1A" stroke-width="0.08" text-anchor="middle">0.49</text>
<text transform="translate(254.17,373.86) scale(1,1.08)" font-size="7.55" fill="#fff" fill-opacity="0.85" stroke="#fff" stroke-width="1.1" stroke-opacity="0.85" stroke-linejoin="round" text-anchor="middle">0.64</text>
<text transform="translate(254.17,373.86) scale(1,1.08)" font-size="7.55" fill="#1E90FF" stroke="#1E90FF" stroke-width="0.08" text-anchor="middle">0.64</text>
<line x1="202.33" y1="18.44" x2="235.41" y2="18.44" stroke="#E31A1C" stroke-width="0.9"/>
<circle cx="217.82" cy="18.44" r="1.9" fill="#E31A1C"/>
<line x1="207.10" y1="31.66" x2="233.02" y2="31.66" stroke="#A82E30" stroke-width="0.9"/>
<circle cx="219.61" cy="31.66" r="1.9" fill="#A82E30"/>
<line x1="222.00" y1="44.89" x2="233.62" y2="44.89" stroke="#FF7F00" stroke-width="0.9"/>
<circle cx="228.25" cy="44.89" r="1.9" fill="#FF7F00"/>
<line x1="226.47" y1="58.12" x2="236.30" y2="58.12" stroke="#999999" stroke-width="0.9"/>
<circle cx="234.51" cy="58.12" r="1.9" fill="#999999"/>
<line x1="229.15" y1="71.34" x2="236.30" y2="71.34" stroke="#6A3D9A" stroke-width="0.9"/>
<circle cx="234.51" cy="71.34" r="1.9" fill="#6A3D9A"/>
<line x1="234.21" y1="84.57" x2="236.60" y2="84.57" stroke="#F4A09C" stroke-width="0.9"/>
<circle cx="235.41" cy="84.57" r="1.9" fill="#F4A09C"/>
<line x1="235.11" y1="97.80" x2="236.90" y2="97.80" stroke="#8C510A" stroke-width="0.9"/>
<circle cx="236.00" cy="97.80" r="1.9" fill="#8C510A"/>
<line x1="234.81" y1="111.02" x2="237.19" y2="111.02" stroke="#EE82EE" stroke-width="0.9"/>
<circle cx="236.00" cy="111.02" r="1.9" fill="#EE82EE"/>
<line x1="233.32" y1="124.25" x2="236.30" y2="124.25" stroke="#000080" stroke-width="0.9"/>
<circle cx="236.30" cy="124.25" r="1.9" fill="#000080"/>
<circle cx="236.30" cy="137.48" r="1.9" fill="#8B8B00"/>
<circle cx="236.30" cy="150.71" r="1.9" fill="#9ACD32"/>
<circle cx="236.30" cy="163.93" r="1.9" fill="#000000"/>
<circle cx="236.30" cy="177.16" r="1.9" fill="#E7298A"/>
<circle cx="236.30" cy="190.39" r="1.9" fill="#17BECF"/>
<circle cx="236.30" cy="203.61" r="1.9" fill="#90EE90"/>
<circle cx="236.30" cy="216.84" r="1.9" fill="#F7C600"/>
<circle cx="236.30" cy="230.07" r="1.9" fill="#0000FF"/>
<line x1="235.70" y1="243.29" x2="237.79" y2="243.29" stroke="#333333" stroke-width="0.9"/>
<circle cx="236.60" cy="243.29" r="1.9" fill="#333333"/>
<line x1="233.02" y1="256.52" x2="249.11" y2="256.52" stroke="#FDB863" stroke-width="0.9"/>
<circle cx="238.98" cy="256.52" r="1.9" fill="#FDB863"/>
<line x1="237.79" y1="269.75" x2="240.17" y2="269.75" stroke="#B5356A" stroke-width="0.9"/>
<circle cx="238.98" cy="269.75" r="1.9" fill="#B5356A"/>
<line x1="236.30" y1="282.98" x2="244.35" y2="282.98" stroke="#FF4444" stroke-width="0.9"/>
<circle cx="239.58" cy="282.98" r="1.9" fill="#FF4444"/>
<line x1="238.68" y1="296.20" x2="241.07" y2="296.20" stroke="#1ED41E" stroke-width="0.9"/>
<circle cx="239.88" cy="296.20" r="1.9" fill="#1ED41E"/>
<line x1="234.21" y1="309.43" x2="253.58" y2="309.43" stroke="#8B008B" stroke-width="0.9"/>
<circle cx="241.07" cy="309.43" r="1.9" fill="#8B008B"/>
<line x1="235.11" y1="322.66" x2="253.29" y2="322.66" stroke="#3A6B9E" stroke-width="0.9"/>
<circle cx="242.26" cy="322.66" r="1.9" fill="#3A6B9E"/>
<line x1="239.88" y1="335.88" x2="249.41" y2="335.88" stroke="#EEA020" stroke-width="0.9"/>
<circle cx="244.64" cy="335.88" r="1.9" fill="#EEA020"/>
<line x1="240.77" y1="349.11" x2="250.31" y2="349.11" stroke="#87CEFA" stroke-width="0.9"/>
<circle cx="245.24" cy="349.11" r="1.9" fill="#87CEFA"/>
<line x1="236.30" y1="362.34" x2="267.89" y2="362.34" stroke="#1A9A1A" stroke-width="0.9"/>
<circle cx="250.90" cy="362.34" r="1.9" fill="#1A9A1A"/>
<line x1="240.77" y1="375.56" x2="269.08" y2="375.56" stroke="#1E90FF" stroke-width="0.9"/>
<circle cx="255.37" cy="375.56" r="1.9" fill="#1E90FF"/>
<text transform="translate(198.20,20.84) scale(1,1.06)" font-size="5.65" fill="#4d4d4d" stroke="#4d4d4d" stroke-width="0.15" text-anchor="end">N.Families</text>
<line x1="198.9" y1="18.44" x2="200.5" y2="18.44" stroke="#333" stroke-width="0.6"/>
<text transform="translate(198.20,34.06) scale(1,1.06)" font-size="5.65" fill="#4d4d4d" stroke="#4d4d4d" stroke-width="0.15" text-anchor="end">Prop.Bras.</text>
<line x1="198.9" y1="31.66" x2="200.5" y2="31.66" stroke="#333" stroke-width="0.6"/>
<text transform="translate(198.20,47.29) scale(1,1.06)" font-size="5.65" fill="#4d4d4d" stroke="#4d4d4d" stroke-width="0.15" text-anchor="end">Prop.Poaceae</text>
<line x1="198.9" y1="44.89" x2="200.5" y2="44.89" stroke="#333" stroke-width="0.6"/>
<text transform="translate(198.20,60.52) scale(1,1.06)" font-size="5.65" fill="#4d4d4d" stroke="#4d4d4d" stroke-width="0.15" text-anchor="end">Prop.Autumn</text>
<line x1="198.9" y1="58.12" x2="200.5" y2="58.12" stroke="#333" stroke-width="0.6"/>
<text transform="translate(198.20,73.74) scale(1,1.06)" font-size="5.65" fill="#4d4d4d" stroke="#4d4d4d" stroke-width="0.15" text-anchor="end">Poaceae</text>
<line x1="198.9" y1="71.34" x2="200.5" y2="71.34" stroke="#333" stroke-width="0.6"/>
<text transform="translate(198.20,86.97) scale(1,1.06)" font-size="5.65" fill="#4d4d4d" stroke="#4d4d4d" stroke-width="0.15" text-anchor="end">Other</text>
<line x1="198.9" y1="84.57" x2="200.5" y2="84.57" stroke="#333" stroke-width="0.6"/>
<text transform="translate(198.20,100.20) scale(1,1.06)" font-size="5.65" fill="#4d4d4d" stroke="#4d4d4d" stroke-width="0.15" text-anchor="end">Spring</text>
<line x1="198.9" y1="97.80" x2="200.5" y2="97.80" stroke="#333" stroke-width="0.6"/>
<text transform="translate(198.20,113.42) scale(1,1.06)" font-size="5.65" fill="#4d4d4d" stroke="#4d4d4d" stroke-width="0.15" text-anchor="end">Cover crop</text>
<line x1="198.9" y1="111.02" x2="200.5" y2="111.02" stroke="#333" stroke-width="0.6"/>
<text transform="translate(198.20,126.65) scale(1,1.06)" font-size="5.65" fill="#4d4d4d" stroke="#4d4d4d" stroke-width="0.15" text-anchor="end">Fabaceae</text>
<line x1="198.9" y1="124.25" x2="200.5" y2="124.25" stroke="#333" stroke-width="0.6"/>
<text transform="translate(198.20,139.88) scale(1,1.06)" font-size="5.65" fill="#4d4d4d" stroke="#4d4d4d" stroke-width="0.15" text-anchor="end">Prop.Winter</text>
<line x1="198.9" y1="137.48" x2="200.5" y2="137.48" stroke="#333" stroke-width="0.6"/>
<text transform="translate(198.20,153.11) scale(1,1.06)" font-size="5.65" fill="#4d4d4d" stroke="#4d4d4d" stroke-width="0.15" text-anchor="end">Summer</text>
<line x1="198.9" y1="150.71" x2="200.5" y2="150.71" stroke="#333" stroke-width="0.6"/>
<text transform="translate(198.20,166.33) scale(1,1.06)" font-size="5.65" fill="#4d4d4d" stroke="#4d4d4d" stroke-width="0.15" text-anchor="end">N.sowing.Seasons</text>
<line x1="198.9" y1="163.93" x2="200.5" y2="163.93" stroke="#333" stroke-width="0.6"/>
<text transform="translate(198.20,179.56) scale(1,1.06)" font-size="5.65" fill="#4d4d4d" stroke="#4d4d4d" stroke-width="0.15" text-anchor="end">Prop.Other</text>
<line x1="198.9" y1="177.16" x2="200.5" y2="177.16" stroke="#333" stroke-width="0.6"/>
<text transform="translate(198.20,192.79) scale(1,1.06)" font-size="5.65" fill="#4d4d4d" stroke="#4d4d4d" stroke-width="0.15" text-anchor="end">Intercrop</text>
<line x1="198.9" y1="190.39" x2="200.5" y2="190.39" stroke="#333" stroke-width="0.6"/>
<text transform="translate(198.20,206.01) scale(1,1.06)" font-size="5.65" fill="#4d4d4d" stroke="#4d4d4d" stroke-width="0.15" text-anchor="end">Prop.T.grassland</text>
<line x1="198.9" y1="203.61" x2="200.5" y2="203.61" stroke="#333" stroke-width="0.6"/>
<text transform="translate(198.20,219.24) scale(1,1.06)" font-size="5.65" fill="#4d4d4d" stroke="#4d4d4d" stroke-width="0.15" text-anchor="end">Dominance</text>
<line x1="198.9" y1="216.84" x2="200.5" y2="216.84" stroke="#333" stroke-width="0.6"/>
<text transform="translate(198.20,232.47) scale(1,1.06)" font-size="5.65" fill="#4d4d4d" stroke="#4d4d4d" stroke-width="0.15" text-anchor="end">Proportional abundance</text>
<line x1="198.9" y1="230.07" x2="200.5" y2="230.07" stroke="#333" stroke-width="0.6"/>
<text transform="translate(198.20,245.69) scale(1,1.06)" font-size="5.65" fill="#4d4d4d" stroke="#4d4d4d" stroke-width="0.15" text-anchor="end">Autumn</text>
<line x1="198.9" y1="243.29" x2="200.5" y2="243.29" stroke="#333" stroke-width="0.6"/>
<text transform="translate(198.20,258.92) scale(1,1.06)" font-size="5.65" fill="#4d4d4d" stroke="#4d4d4d" stroke-width="0.15" text-anchor="end">Evenness</text>
<line x1="198.9" y1="256.52" x2="200.5" y2="256.52" stroke="#333" stroke-width="0.6"/>
<text transform="translate(198.20,272.15) scale(1,1.06)" font-size="5.65" fill="#4d4d4d" stroke="#4d4d4d" stroke-width="0.15" text-anchor="end">Brassicaceae</text>
<line x1="198.9" y1="269.75" x2="200.5" y2="269.75" stroke="#333" stroke-width="0.6"/>
<text transform="translate(198.20,285.38) scale(1,1.06)" font-size="5.65" fill="#4d4d4d" stroke="#4d4d4d" stroke-width="0.15" text-anchor="end">Prop.Cover crop</text>
<line x1="198.9" y1="282.98" x2="200.5" y2="282.98" stroke="#333" stroke-width="0.6"/>
<text transform="translate(198.20,298.60) scale(1,1.06)" font-size="5.65" fill="#4d4d4d" stroke="#4d4d4d" stroke-width="0.15" text-anchor="end">T.grassland</text>
<line x1="198.9" y1="296.20" x2="200.5" y2="296.20" stroke="#333" stroke-width="0.6"/>
<text transform="translate(198.20,311.83) scale(1,1.06)" font-size="5.65" fill="#4d4d4d" stroke="#4d4d4d" stroke-width="0.15" text-anchor="end">Prop.Spring</text>
<line x1="198.9" y1="309.43" x2="200.5" y2="309.43" stroke="#333" stroke-width="0.6"/>
<text transform="translate(198.20,325.06) scale(1,1.06)" font-size="5.65" fill="#4d4d4d" stroke="#4d4d4d" stroke-width="0.15" text-anchor="end">Prop.Faba.</text>
<line x1="198.9" y1="322.66" x2="200.5" y2="322.66" stroke="#333" stroke-width="0.6"/>
<text transform="translate(198.20,338.28) scale(1,1.06)" font-size="5.65" fill="#4d4d4d" stroke="#4d4d4d" stroke-width="0.15" text-anchor="end">Winter</text>
<line x1="198.9" y1="335.88" x2="200.5" y2="335.88" stroke="#333" stroke-width="0.6"/>
<text transform="translate(198.20,351.51) scale(1,1.06)" font-size="5.65" fill="#4d4d4d" stroke="#4d4d4d" stroke-width="0.15" text-anchor="end">Prop.Summer</text>
<line x1="198.9" y1="349.11" x2="200.5" y2="349.11" stroke="#333" stroke-width="0.6"/>
<text transform="translate(198.20,364.74) scale(1,1.06)" font-size="5.65" fill="#4d4d4d" stroke="#4d4d4d" stroke-width="0.15" text-anchor="end">Richness</text>
<line x1="198.9" y1="362.34" x2="200.5" y2="362.34" stroke="#333" stroke-width="0.6"/>
<text transform="translate(198.20,377.96) scale(1,1.06)" font-size="5.65" fill="#4d4d4d" stroke="#4d4d4d" stroke-width="0.15" text-anchor="end">Prop.Intercrop</text>
<line x1="198.9" y1="375.56" x2="200.5" y2="375.56" stroke="#333" stroke-width="0.6"/>
<rect x="200" y="10" width="73" height="1" fill="#000" fill-opacity="0.247"/>
<rect x="200" y="10" width="1" height="374" fill="#000" fill-opacity="0.400"/>
<rect x="271" y="10" width="1" height="374" fill="#000" fill-opacity="0.231"/>
<rect x="272" y="10" width="1" height="374" fill="#000" fill-opacity="0.263"/>
<rect x="200" y="383" width="73" height="1" fill="#000" fill-opacity="0.467"/>
<line x1="206.50" y1="383.5" x2="206.50" y2="385.5" stroke="#333" stroke-width="0.6"/>
<text transform="translate(206.50,390.40) scale(1,1.06)" font-size="5.65" fill="#4d4d4d" stroke="#4d4d4d" stroke-width="0.15" text-anchor="middle">−1.0</text>
<line x1="221.40" y1="383.5" x2="221.40" y2="385.5" stroke="#333" stroke-width="0.6"/>
<text transform="translate(221.40,390.40) scale(1,1.06)" font-size="5.65" fill="#4d4d4d" stroke="#4d4d4d" stroke-width="0.15" text-anchor="middle">−0.5</text>
<line x1="236.30" y1="383.5" x2="236.30" y2="385.5" stroke="#333" stroke-width="0.6"/>
<text transform="translate(236.30,390.40) scale(1,1.06)" font-size="5.65" fill="#4d4d4d" stroke="#4d4d4d" stroke-width="0.15" text-anchor="middle">0.0</text>
<line x1="251.20" y1="383.5" x2="251.20" y2="385.5" stroke="#333" stroke-width="0.6"/>
<text transform="translate(251.20,390.40) scale(1,1.06)" font-size="5.65" fill="#4d4d4d" stroke="#4d4d4d" stroke-width="0.15" text-anchor="middle">0.5</text>
<line x1="266.10" y1="383.5" x2="266.10" y2="385.5" stroke="#333" stroke-width="0.6"/>
<text transform="translate(266.10,390.40) scale(1,1.06)" font-size="5.65" fill="#4d4d4d" stroke="#4d4d4d" stroke-width="0.15" text-anchor="middle">1.0</text>
<text transform="translate(236.50,396.80) scale(1,1.18)" font-size="5.75" fill="#000" stroke="#000" stroke-width="0.05" text-anchor="middle">Coefficients of CDM<tspan font-size="4.2" dy="1" stroke-width="0.04">herbicide</tspan></text>
<text x="200.50" y="8.1" font-size="8.6" font-weight="bold" fill="#000">b</text>
<line x1="344.10" y1="10.5" x2="344.10" y2="382.5" stroke="#f2f2f2" stroke-width="0.6"/>
<line x1="363.30" y1="10.5" x2="363.30" y2="382.5" stroke="#f2f2f2" stroke-width="0.6"/>
<line x1="382.50" y1="10.5" x2="382.50" y2="382.5" stroke="#f2f2f2" stroke-width="0.6"/>
<line x1="401.70" y1="10.5" x2="401.70" y2="382.5" stroke="#f2f2f2" stroke-width="0.6"/>
<line x1="353.70" y1="10.5" x2="353.70" y2="382.5" stroke="#ebebeb" stroke-width="0.9"/>
<line x1="372.90" y1="10.5" x2="372.90" y2="382.5" stroke="#ebebeb" stroke-width="0.9"/>
<line x1="392.10" y1="10.5" x2="392.10" y2="382.5" stroke="#ebebeb" stroke-width="0.9"/>
<line x1="337.5" y1="18.41" x2="409.5" y2="18.41" stroke="#ebebeb" stroke-width="0.9"/>
<line x1="337.5" y1="31.61" x2="409.5" y2="31.61" stroke="#ebebeb" stroke-width="0.9"/>
<line x1="337.5" y1="44.80" x2="409.5" y2="44.80" stroke="#ebebeb" stroke-width="0.9"/>
<line x1="337.5" y1="57.99" x2="409.5" y2="57.99" stroke="#ebebeb" stroke-width="0.9"/>
<line x1="337.5" y1="71.18" x2="409.5" y2="71.18" stroke="#ebebeb" stroke-width="0.9"/>
<line x1="337.5" y1="84.37" x2="409.5" y2="84.37" stroke="#ebebeb" stroke-width="0.9"/>
<line x1="337.5" y1="97.56" x2="409.5" y2="97.56" stroke="#ebebeb" stroke-width="0.9"/>
<line x1="337.5" y1="110.76" x2="409.5" y2="110.76" stroke="#ebebeb" stroke-width="0.9"/>
<line x1="337.5" y1="123.95" x2="409.5" y2="123.95" stroke="#ebebeb" stroke-width="0.9"/>
<line x1="337.5" y1="137.14" x2="409.5" y2="137.14" stroke="#ebebeb" stroke-width="0.9"/>
<line x1="337.5" y1="150.33" x2="409.5" y2="150.33" stroke="#ebebeb" stroke-width="0.9"/>
<line x1="337.5" y1="163.52" x2="409.5" y2="163.52" stroke="#ebebeb" stroke-width="0.9"/>
<line x1="337.5" y1="176.71" x2="409.5" y2="176.71" stroke="#ebebeb" stroke-width="0.9"/>
<line x1="337.5" y1="189.90" x2="409.5" y2="189.90" stroke="#ebebeb" stroke-width="0.9"/>
<line x1="337.5" y1="203.10" x2="409.5" y2="203.10" stroke="#ebebeb" stroke-width="0.9"/>
<line x1="337.5" y1="216.29" x2="409.5" y2="216.29" stroke="#ebebeb" stroke-width="0.9"/>
<line x1="337.5" y1="229.48" x2="409.5" y2="229.48" stroke="#ebebeb" stroke-width="0.9"/>
<line x1="337.5" y1="242.67" x2="409.5" y2="242.67" stroke="#ebebeb" stroke-width="0.9"/>
<line x1="337.5" y1="255.86" x2="409.5" y2="255.86" stroke="#ebebeb" stroke-width="0.9"/>
<line x1="337.5" y1="269.05" x2="409.5" y2="269.05" stroke="#ebebeb" stroke-width="0.9"/>
<line x1="337.5" y1="282.24" x2="409.5" y2="282.24" stroke="#ebebeb" stroke-width="0.9"/>
<line x1="337.5" y1="295.44" x2="409.5" y2="295.44" stroke="#ebebeb" stroke-width="0.9"/>
<line x1="337.5" y1="308.63" x2="409.5" y2="308.63" stroke="#ebebeb" stroke-width="0.9"/>
<line x1="337.5" y1="321.82" x2="409.5" y2="321.82" stroke="#ebebeb" stroke-width="0.9"/>
<line x1="337.5" y1="335.01" x2="409.5" y2="335.01" stroke="#ebebeb" stroke-width="0.9"/>
<line x1="337.5" y1="348.20" x2="409.5" y2="348.20" stroke="#ebebeb" stroke-width="0.9"/>
<line x1="337.5" y1="361.39" x2="409.5" y2="361.39" stroke="#ebebeb" stroke-width="0.9"/>
<line x1="337.5" y1="374.59" x2="409.5" y2="374.59" stroke="#ebebeb" stroke-width="0.9"/>
<line x1="372.5" y1="11" x2="372.5" y2="382.5" stroke="#909090" stroke-width="1" stroke-dasharray="1,1"/>
<text transform="translate(351.52,16.71) scale(1,1.08)" font-size="7.55" fill="#fff" fill-opacity="0.85" stroke="#fff" stroke-width="1.1" stroke-opacity="0.85" stroke-linejoin="round" text-anchor="middle">−1.03</text>
<text transform="translate(351.52,16.71) scale(1,1.08)" font-size="7.55" fill="#E31A1C" stroke="#E31A1C" stroke-width="0.08" text-anchor="middle">−1.03</text>
<text transform="translate(363.43,29.91) scale(1,1.08)" font-size="7.55" fill="#fff" fill-opacity="0.85" stroke="#fff" stroke-width="1.1" stroke-opacity="0.85" stroke-linejoin="round" text-anchor="middle">−0.41</text>
<text transform="translate(363.43,29.91) scale(1,1.08)" font-size="7.55" fill="#FDB863" stroke="#FDB863" stroke-width="0.08" text-anchor="middle">−0.41</text>
<text transform="translate(364.77,43.10) scale(1,1.08)" font-size="7.55" fill="#fff" fill-opacity="0.85" stroke="#fff" stroke-width="1.1" stroke-opacity="0.85" stroke-linejoin="round" text-anchor="middle">−0.34</text>
<text transform="translate(364.77,43.10) scale(1,1.08)" font-size="7.55" fill="#F7C600" stroke="#F7C600" stroke-width="0.08" text-anchor="middle">−0.34</text>
<text transform="translate(366.50,56.29) scale(1,1.08)" font-size="7.55" fill="#fff" fill-opacity="0.85" stroke="#fff" stroke-width="1.1" stroke-opacity="0.85" stroke-linejoin="round" text-anchor="middle">−0.25</text>
<text transform="translate(366.50,56.29) scale(1,1.08)" font-size="7.55" fill="#E7298A" stroke="#E7298A" stroke-width="0.08" text-anchor="middle">−0.25</text>
<text transform="translate(366.88,69.48) scale(1,1.08)" font-size="7.55" fill="#fff" fill-opacity="0.85" stroke="#fff" stroke-width="1.1" stroke-opacity="0.85" stroke-linejoin="round" text-anchor="middle">−0.23</text>
<text transform="translate(366.88,69.48) scale(1,1.08)" font-size="7.55" fill="#8B008B" stroke="#8B008B" stroke-width="0.08" text-anchor="middle">−0.23</text>
<text transform="translate(369.78,82.67) scale(1,1.08)" font-size="7.55" fill="#fff" fill-opacity="0.85" stroke="#fff" stroke-width="1.1" stroke-opacity="0.85" stroke-linejoin="round" text-anchor="middle">−0.1</text>
<text transform="translate(369.78,82.67) scale(1,1.08)" font-size="7.55" fill="#EE82EE" stroke="#EE82EE" stroke-width="0.08" text-anchor="middle">−0.1</text>
<text transform="translate(370.34,95.86) scale(1,1.08)" font-size="7.55" fill="#fff" fill-opacity="0.85" stroke="#fff" stroke-width="1.1" stroke-opacity="0.85" stroke-linejoin="round" text-anchor="middle">−0.05</text>
<text transform="translate(370.34,95.86) scale(1,1.08)" font-size="7.55" fill="#6A3D9A" stroke="#6A3D9A" stroke-width="0.08" text-anchor="middle">−0.05</text>
<text transform="translate(370.53,109.06) scale(1,1.08)" font-size="7.55" fill="#fff" fill-opacity="0.85" stroke="#fff" stroke-width="1.1" stroke-opacity="0.85" stroke-linejoin="round" text-anchor="middle">−0.04</text>
<text transform="translate(370.53,109.06) scale(1,1.08)" font-size="7.55" fill="#333333" stroke="#333333" stroke-width="0.08" text-anchor="middle">−0.04</text>
<text transform="translate(370.72,122.25) scale(1,1.08)" font-size="7.55" fill="#fff" fill-opacity="0.85" stroke="#fff" stroke-width="1.1" stroke-opacity="0.85" stroke-linejoin="round" text-anchor="middle">−0.03</text>
<text transform="translate(370.72,122.25) scale(1,1.08)" font-size="7.55" fill="#8B8B00" stroke="#8B8B00" stroke-width="0.08" text-anchor="middle">−0.03</text>
<text transform="translate(371.11,135.44) scale(1,1.08)" font-size="7.55" fill="#fff" fill-opacity="0.85" stroke="#fff" stroke-width="1.1" stroke-opacity="0.85" stroke-linejoin="round" text-anchor="middle">−0.01</text>
<text transform="translate(371.11,135.44) scale(1,1.08)" font-size="7.55" fill="#000080" stroke="#000080" stroke-width="0.08" text-anchor="middle">−0.01</text>
<text transform="translate(372.90,148.63) scale(1,1.08)" font-size="7.55" fill="#fff" fill-opacity="0.85" stroke="#fff" stroke-width="1.1" stroke-opacity="0.85" stroke-linejoin="round" text-anchor="middle">0</text>
<text transform="translate(372.90,148.63) scale(1,1.08)" font-size="7.55" fill="#A82E30" stroke="#A82E30" stroke-width="0.08" text-anchor="middle">0</text>
<text transform="translate(372.28,161.82) scale(1,1.08)" font-size="7.55" fill="#fff" fill-opacity="0.85" stroke="#fff" stroke-width="1.1" stroke-opacity="0.85" stroke-linejoin="round" text-anchor="middle">0.03</text>
<text transform="translate(372.28,161.82) scale(1,1.08)" font-size="7.55" fill="#9ACD32" stroke="#9ACD32" stroke-width="0.08" text-anchor="middle">0.03</text>
<text transform="translate(372.47,175.01) scale(1,1.08)" font-size="7.55" fill="#fff" fill-opacity="0.85" stroke="#fff" stroke-width="1.1" stroke-opacity="0.85" stroke-linejoin="round" text-anchor="middle">0.04</text>
<text transform="translate(372.47,175.01) scale(1,1.08)" font-size="7.55" fill="#8C510A" stroke="#8C510A" stroke-width="0.08" text-anchor="middle">0.04</text>
<text transform="translate(372.66,188.20) scale(1,1.08)" font-size="7.55" fill="#fff" fill-opacity="0.85" stroke="#fff" stroke-width="1.1" stroke-opacity="0.85" stroke-linejoin="round" text-anchor="middle">0.05</text>
<text transform="translate(372.66,188.20) scale(1,1.08)" font-size="7.55" fill="#000000" stroke="#000000" stroke-width="0.08" text-anchor="middle">0.05</text>
<text transform="translate(374.02,201.40) scale(1,1.08)" font-size="7.55" fill="#fff" fill-opacity="0.85" stroke="#fff" stroke-width="1.1" stroke-opacity="0.85" stroke-linejoin="round" text-anchor="middle">0.1</text>
<text transform="translate(374.02,201.40) scale(1,1.08)" font-size="7.55" fill="#1ED41E" stroke="#1ED41E" stroke-width="0.08" text-anchor="middle">0.1</text>
<text transform="translate(373.81,214.59) scale(1,1.08)" font-size="7.55" fill="#fff" fill-opacity="0.85" stroke="#fff" stroke-width="1.1" stroke-opacity="0.85" stroke-linejoin="round" text-anchor="middle">0.11</text>
<text transform="translate(373.81,214.59) scale(1,1.08)" font-size="7.55" fill="#999999" stroke="#999999" stroke-width="0.08" text-anchor="middle">0.11</text>
<text transform="translate(373.81,227.78) scale(1,1.08)" font-size="7.55" fill="#fff" fill-opacity="0.85" stroke="#fff" stroke-width="1.1" stroke-opacity="0.85" stroke-linejoin="round" text-anchor="middle">0.11</text>
<text transform="translate(373.81,227.78) scale(1,1.08)" font-size="7.55" fill="#EEA020" stroke="#EEA020" stroke-width="0.08" text-anchor="middle">0.11</text>
<text transform="translate(373.81,240.97) scale(1,1.08)" font-size="7.55" fill="#fff" fill-opacity="0.85" stroke="#fff" stroke-width="1.1" stroke-opacity="0.85" stroke-linejoin="round" text-anchor="middle">0.11</text>
<text transform="translate(373.81,240.97) scale(1,1.08)" font-size="7.55" fill="#17BECF" stroke="#17BECF" stroke-width="0.08" text-anchor="middle">0.11</text>
<text transform="translate(373.81,254.16) scale(1,1.08)" font-size="7.55" fill="#fff" fill-opacity="0.85" stroke="#fff" stroke-width="1.1" stroke-opacity="0.85" stroke-linejoin="round" text-anchor="middle">0.11</text>
<text transform="translate(373.81,254.16) scale(1,1.08)" font-size="7.55" fill="#FF4444" stroke="#FF4444" stroke-width="0.08" text-anchor="middle">0.11</text>
<text transform="translate(373.81,267.35) scale(1,1.08)" font-size="7.55" fill="#fff" fill-opacity="0.85" stroke="#fff" stroke-width="1.1" stroke-opacity="0.85" stroke-linejoin="round" text-anchor="middle">0.11</text>
<text transform="translate(373.81,267.35) scale(1,1.08)" font-size="7.55" fill="#F4A09C" stroke="#F4A09C" stroke-width="0.08" text-anchor="middle">0.11</text>
<text transform="translate(374.39,280.54) scale(1,1.08)" font-size="7.55" fill="#fff" fill-opacity="0.85" stroke="#fff" stroke-width="1.1" stroke-opacity="0.85" stroke-linejoin="round" text-anchor="middle">0.14</text>
<text transform="translate(374.39,280.54) scale(1,1.08)" font-size="7.55" fill="#87CEFA" stroke="#87CEFA" stroke-width="0.08" text-anchor="middle">0.14</text>
<text transform="translate(374.39,293.74) scale(1,1.08)" font-size="7.55" fill="#fff" fill-opacity="0.85" stroke="#fff" stroke-width="1.1" stroke-opacity="0.85" stroke-linejoin="round" text-anchor="middle">0.14</text>
<text transform="translate(374.39,293.74) scale(1,1.08)" font-size="7.55" fill="#B5356A" stroke="#B5356A" stroke-width="0.08" text-anchor="middle">0.14</text>
<text transform="translate(375.35,306.93) scale(1,1.08)" font-size="7.55" fill="#fff" fill-opacity="0.85" stroke="#fff" stroke-width="1.1" stroke-opacity="0.85" stroke-linejoin="round" text-anchor="middle">0.19</text>
<text transform="translate(375.35,306.93) scale(1,1.08)" font-size="7.55" fill="#0000FF" stroke="#0000FF" stroke-width="0.08" text-anchor="middle">0.19</text>
<text transform="translate(375.35,320.12) scale(1,1.08)" font-size="7.55" fill="#fff" fill-opacity="0.85" stroke="#fff" stroke-width="1.1" stroke-opacity="0.85" stroke-linejoin="round" text-anchor="middle">0.19</text>
<text transform="translate(375.35,320.12) scale(1,1.08)" font-size="7.55" fill="#FF7F00" stroke="#FF7F00" stroke-width="0.08" text-anchor="middle">0.19</text>
<text transform="translate(379.19,333.31) scale(1,1.08)" font-size="7.55" fill="#fff" fill-opacity="0.85" stroke="#fff" stroke-width="1.1" stroke-opacity="0.85" stroke-linejoin="round" text-anchor="middle">0.39</text>
<text transform="translate(379.19,333.31) scale(1,1.08)" font-size="7.55" fill="#90EE90" stroke="#90EE90" stroke-width="0.08" text-anchor="middle">0.39</text>
<text transform="translate(379.76,346.50) scale(1,1.08)" font-size="7.55" fill="#fff" fill-opacity="0.85" stroke="#fff" stroke-width="1.1" stroke-opacity="0.85" stroke-linejoin="round" text-anchor="middle">0.42</text>
<text transform="translate(379.76,346.50) scale(1,1.08)" font-size="7.55" fill="#1E90FF" stroke="#1E90FF" stroke-width="0.08" text-anchor="middle">0.42</text>
<text transform="translate(387.46,359.69) scale(1,1.08)" font-size="7.55" fill="#fff" fill-opacity="0.85" stroke="#fff" stroke-width="1.1" stroke-opacity="0.85" stroke-linejoin="round" text-anchor="middle">0.8</text>
<text transform="translate(387.46,359.69) scale(1,1.08)" font-size="7.55" fill="#3A6B9E" stroke="#3A6B9E" stroke-width="0.08" text-anchor="middle">0.8</text>
<text transform="translate(393.20,372.89) scale(1,1.08)" font-size="7.55" fill="#fff" fill-opacity="0.85" stroke="#fff" stroke-width="1.1" stroke-opacity="0.85" stroke-linejoin="round" text-anchor="middle">1.12</text>
<text transform="translate(393.20,372.89) scale(1,1.08)" font-size="7.55" fill="#1A9A1A" stroke="#1A9A1A" stroke-width="0.08" text-anchor="middle">1.12</text>
<line x1="341.22" y1="18.41" x2="365.22" y2="18.41" stroke="#E31A1C" stroke-width="0.9"/>
<circle cx="353.12" cy="18.41" r="1.9" fill="#E31A1C"/>
<line x1="362.15" y1="31.61" x2="369.06" y2="31.61" stroke="#FDB863" stroke-width="0.9"/>
<circle cx="365.03" cy="31.61" r="1.9" fill="#FDB863"/>
<line x1="359.27" y1="44.80" x2="373.67" y2="44.80" stroke="#F7C600" stroke-width="0.9"/>
<circle cx="366.37" cy="44.80" r="1.9" fill="#F7C600"/>
<line x1="354.85" y1="57.99" x2="370.02" y2="57.99" stroke="#E7298A" stroke-width="0.9"/>
<circle cx="368.10" cy="57.99" r="1.9" fill="#E7298A"/>
<line x1="360.42" y1="71.18" x2="371.17" y2="71.18" stroke="#8B008B" stroke-width="0.9"/>
<circle cx="368.48" cy="71.18" r="1.9" fill="#8B008B"/>
<line x1="369.83" y1="84.37" x2="372.13" y2="84.37" stroke="#EE82EE" stroke-width="0.9"/>
<circle cx="370.98" cy="84.37" r="1.9" fill="#EE82EE"/>
<line x1="370.98" y1="97.56" x2="372.90" y2="97.56" stroke="#6A3D9A" stroke-width="0.9"/>
<circle cx="371.94" cy="97.56" r="1.9" fill="#6A3D9A"/>
<line x1="371.36" y1="110.76" x2="372.90" y2="110.76" stroke="#333333" stroke-width="0.9"/>
<circle cx="372.13" cy="110.76" r="1.9" fill="#333333"/>
<line x1="369.06" y1="123.95" x2="373.67" y2="123.95" stroke="#8B8B00" stroke-width="0.9"/>
<circle cx="372.32" cy="123.95" r="1.9" fill="#8B8B00"/>
<line x1="371.94" y1="137.14" x2="373.48" y2="137.14" stroke="#000080" stroke-width="0.9"/>
<circle cx="372.71" cy="137.14" r="1.9" fill="#000080"/>
<line x1="361.19" y1="150.33" x2="372.90" y2="150.33" stroke="#A82E30" stroke-width="0.9"/>
<circle cx="372.90" cy="150.33" r="1.9" fill="#A82E30"/>
<line x1="372.90" y1="163.52" x2="374.05" y2="163.52" stroke="#9ACD32" stroke-width="0.9"/>
<circle cx="373.48" cy="163.52" r="1.9" fill="#9ACD32"/>
<line x1="373.09" y1="176.71" x2="374.24" y2="176.71" stroke="#8C510A" stroke-width="0.9"/>
<circle cx="373.67" cy="176.71" r="1.9" fill="#8C510A"/>
<line x1="373.28" y1="189.90" x2="374.44" y2="189.90" stroke="#000000" stroke-width="0.9"/>
<circle cx="373.86" cy="189.90" r="1.9" fill="#000000"/>
<line x1="374.05" y1="203.10" x2="375.59" y2="203.10" stroke="#1ED41E" stroke-width="0.9"/>
<circle cx="374.82" cy="203.10" r="1.9" fill="#1ED41E"/>
<line x1="374.24" y1="216.29" x2="375.78" y2="216.29" stroke="#999999" stroke-width="0.9"/>
<circle cx="375.01" cy="216.29" r="1.9" fill="#999999"/>
<line x1="374.24" y1="229.48" x2="375.78" y2="229.48" stroke="#EEA020" stroke-width="0.9"/>
<circle cx="375.01" cy="229.48" r="1.9" fill="#EEA020"/>
<line x1="374.24" y1="242.67" x2="375.78" y2="242.67" stroke="#17BECF" stroke-width="0.9"/>
<circle cx="375.01" cy="242.67" r="1.9" fill="#17BECF"/>
<line x1="374.05" y1="255.86" x2="375.97" y2="255.86" stroke="#FF4444" stroke-width="0.9"/>
<circle cx="375.01" cy="255.86" r="1.9" fill="#FF4444"/>
<line x1="374.24" y1="269.05" x2="375.78" y2="269.05" stroke="#F4A09C" stroke-width="0.9"/>
<circle cx="375.01" cy="269.05" r="1.9" fill="#F4A09C"/>
<line x1="374.82" y1="282.24" x2="376.36" y2="282.24" stroke="#87CEFA" stroke-width="0.9"/>
<circle cx="375.59" cy="282.24" r="1.9" fill="#87CEFA"/>
<line x1="374.82" y1="295.44" x2="376.36" y2="295.44" stroke="#B5356A" stroke-width="0.9"/>
<circle cx="375.59" cy="295.44" r="1.9" fill="#B5356A"/>
<line x1="367.14" y1="308.63" x2="387.11" y2="308.63" stroke="#0000FF" stroke-width="0.9"/>
<circle cx="376.55" cy="308.63" r="1.9" fill="#0000FF"/>
<line x1="370.60" y1="321.82" x2="377.89" y2="321.82" stroke="#FF7F00" stroke-width="0.9"/>
<circle cx="376.55" cy="321.82" r="1.9" fill="#FF7F00"/>
<line x1="378.66" y1="335.01" x2="382.12" y2="335.01" stroke="#90EE90" stroke-width="0.9"/>
<circle cx="380.39" cy="335.01" r="1.9" fill="#90EE90"/>
<line x1="370.02" y1="348.20" x2="382.50" y2="348.20" stroke="#1E90FF" stroke-width="0.9"/>
<circle cx="380.96" cy="348.20" r="1.9" fill="#1E90FF"/>
<line x1="378.08" y1="361.39" x2="389.22" y2="361.39" stroke="#3A6B9E" stroke-width="0.9"/>
<circle cx="388.26" cy="361.39" r="1.9" fill="#3A6B9E"/>
<line x1="383.08" y1="374.59" x2="406.50" y2="374.59" stroke="#1A9A1A" stroke-width="0.9"/>
<circle cx="394.40" cy="374.59" r="1.9" fill="#1A9A1A"/>
<text transform="translate(335.20,20.81) scale(1,1.06)" font-size="5.65" fill="#4d4d4d" stroke="#4d4d4d" stroke-width="0.15" text-anchor="end">N.Families</text>
<line x1="335.9" y1="18.41" x2="337.5" y2="18.41" stroke="#333" stroke-width="0.6"/>
<text transform="translate(335.20,34.01) scale(1,1.06)" font-size="5.65" fill="#4d4d4d" stroke="#4d4d4d" stroke-width="0.15" text-anchor="end">Evenness</text>
<line x1="335.9" y1="31.61" x2="337.5" y2="31.61" stroke="#333" stroke-width="0.6"/>
<text transform="translate(335.20,47.20) scale(1,1.06)" font-size="5.65" fill="#4d4d4d" stroke="#4d4d4d" stroke-width="0.15" text-anchor="end">Dominance</text>
<line x1="335.9" y1="44.80" x2="337.5" y2="44.80" stroke="#333" stroke-width="0.6"/>
<text transform="translate(335.20,60.39) scale(1,1.06)" font-size="5.65" fill="#4d4d4d" stroke="#4d4d4d" stroke-width="0.15" text-anchor="end">Prop.Other</text>
<line x1="335.9" y1="57.99" x2="337.5" y2="57.99" stroke="#333" stroke-width="0.6"/>
<text transform="translate(335.20,73.58) scale(1,1.06)" font-size="5.65" fill="#4d4d4d" stroke="#4d4d4d" stroke-width="0.15" text-anchor="end">Prop.Spring</text>
<line x1="335.9" y1="71.18" x2="337.5" y2="71.18" stroke="#333" stroke-width="0.6"/>
<text transform="translate(335.20,86.77) scale(1,1.06)" font-size="5.65" fill="#4d4d4d" stroke="#4d4d4d" stroke-width="0.15" text-anchor="end">Cover crop</text>
<line x1="335.9" y1="84.37" x2="337.5" y2="84.37" stroke="#333" stroke-width="0.6"/>
<text transform="translate(335.20,99.96) scale(1,1.06)" font-size="5.65" fill="#4d4d4d" stroke="#4d4d4d" stroke-width="0.15" text-anchor="end">Poaceae</text>
<line x1="335.9" y1="97.56" x2="337.5" y2="97.56" stroke="#333" stroke-width="0.6"/>
<text transform="translate(335.20,113.16) scale(1,1.06)" font-size="5.65" fill="#4d4d4d" stroke="#4d4d4d" stroke-width="0.15" text-anchor="end">Autumn</text>
<line x1="335.9" y1="110.76" x2="337.5" y2="110.76" stroke="#333" stroke-width="0.6"/>
<text transform="translate(335.20,126.35) scale(1,1.06)" font-size="5.65" fill="#4d4d4d" stroke="#4d4d4d" stroke-width="0.15" text-anchor="end">Prop.Winter</text>
<line x1="335.9" y1="123.95" x2="337.5" y2="123.95" stroke="#333" stroke-width="0.6"/>
<text transform="translate(335.20,139.54) scale(1,1.06)" font-size="5.65" fill="#4d4d4d" stroke="#4d4d4d" stroke-width="0.15" text-anchor="end">Fabaceae</text>
<line x1="335.9" y1="137.14" x2="337.5" y2="137.14" stroke="#333" stroke-width="0.6"/>
<text transform="translate(335.20,152.73) scale(1,1.06)" font-size="5.65" fill="#4d4d4d" stroke="#4d4d4d" stroke-width="0.15" text-anchor="end">Prop.Bras.</text>
<line x1="335.9" y1="150.33" x2="337.5" y2="150.33" stroke="#333" stroke-width="0.6"/>
<text transform="translate(335.20,165.92) scale(1,1.06)" font-size="5.65" fill="#4d4d4d" stroke="#4d4d4d" stroke-width="0.15" text-anchor="end">Summer</text>
<line x1="335.9" y1="163.52" x2="337.5" y2="163.52" stroke="#333" stroke-width="0.6"/>
<text transform="translate(335.20,179.11) scale(1,1.06)" font-size="5.65" fill="#4d4d4d" stroke="#4d4d4d" stroke-width="0.15" text-anchor="end">Spring</text>
<line x1="335.9" y1="176.71" x2="337.5" y2="176.71" stroke="#333" stroke-width="0.6"/>
<text transform="translate(335.20,192.30) scale(1,1.06)" font-size="5.65" fill="#4d4d4d" stroke="#4d4d4d" stroke-width="0.15" text-anchor="end">N.sowing.Seasons</text>
<line x1="335.9" y1="189.90" x2="337.5" y2="189.90" stroke="#333" stroke-width="0.6"/>
<text transform="translate(335.20,205.50) scale(1,1.06)" font-size="5.65" fill="#4d4d4d" stroke="#4d4d4d" stroke-width="0.15" text-anchor="end">T.grassland</text>
<line x1="335.9" y1="203.10" x2="337.5" y2="203.10" stroke="#333" stroke-width="0.6"/>
<text transform="translate(335.20,218.69) scale(1,1.06)" font-size="5.65" fill="#4d4d4d" stroke="#4d4d4d" stroke-width="0.15" text-anchor="end">Prop.Autumn</text>
<line x1="335.9" y1="216.29" x2="337.5" y2="216.29" stroke="#333" stroke-width="0.6"/>
<text transform="translate(335.20,231.88) scale(1,1.06)" font-size="5.65" fill="#4d4d4d" stroke="#4d4d4d" stroke-width="0.15" text-anchor="end">Winter</text>
<line x1="335.9" y1="229.48" x2="337.5" y2="229.48" stroke="#333" stroke-width="0.6"/>
<text transform="translate(335.20,245.07) scale(1,1.06)" font-size="5.65" fill="#4d4d4d" stroke="#4d4d4d" stroke-width="0.15" text-anchor="end">Intercrop</text>
<line x1="335.9" y1="242.67" x2="337.5" y2="242.67" stroke="#333" stroke-width="0.6"/>
<text transform="translate(335.20,258.26) scale(1,1.06)" font-size="5.65" fill="#4d4d4d" stroke="#4d4d4d" stroke-width="0.15" text-anchor="end">Prop.Cover crop</text>
<line x1="335.9" y1="255.86" x2="337.5" y2="255.86" stroke="#333" stroke-width="0.6"/>
<text transform="translate(335.20,271.45) scale(1,1.06)" font-size="5.65" fill="#4d4d4d" stroke="#4d4d4d" stroke-width="0.15" text-anchor="end">Other</text>
<line x1="335.9" y1="269.05" x2="337.5" y2="269.05" stroke="#333" stroke-width="0.6"/>
<text transform="translate(335.20,284.64) scale(1,1.06)" font-size="5.65" fill="#4d4d4d" stroke="#4d4d4d" stroke-width="0.15" text-anchor="end">Prop.Summer</text>
<line x1="335.9" y1="282.24" x2="337.5" y2="282.24" stroke="#333" stroke-width="0.6"/>
<text transform="translate(335.20,297.84) scale(1,1.06)" font-size="5.65" fill="#4d4d4d" stroke="#4d4d4d" stroke-width="0.15" text-anchor="end">Brassicaceae</text>
<line x1="335.9" y1="295.44" x2="337.5" y2="295.44" stroke="#333" stroke-width="0.6"/>
<text transform="translate(335.20,311.03) scale(1,1.06)" font-size="5.65" fill="#4d4d4d" stroke="#4d4d4d" stroke-width="0.15" text-anchor="end">Proportional abundance</text>
<line x1="335.9" y1="308.63" x2="337.5" y2="308.63" stroke="#333" stroke-width="0.6"/>
<text transform="translate(335.20,324.22) scale(1,1.06)" font-size="5.65" fill="#4d4d4d" stroke="#4d4d4d" stroke-width="0.15" text-anchor="end">Prop.Poaceae</text>
<line x1="335.9" y1="321.82" x2="337.5" y2="321.82" stroke="#333" stroke-width="0.6"/>
<text transform="translate(335.20,337.41) scale(1,1.06)" font-size="5.65" fill="#4d4d4d" stroke="#4d4d4d" stroke-width="0.15" text-anchor="end">Prop.T.grassland</text>
<line x1="335.9" y1="335.01" x2="337.5" y2="335.01" stroke="#333" stroke-width="0.6"/>
<text transform="translate(335.20,350.60) scale(1,1.06)" font-size="5.65" fill="#4d4d4d" stroke="#4d4d4d" stroke-width="0.15" text-anchor="end">Prop.Intercrop</text>
<line x1="335.9" y1="348.20" x2="337.5" y2="348.20" stroke="#333" stroke-width="0.6"/>
<text transform="translate(335.20,363.79) scale(1,1.06)" font-size="5.65" fill="#4d4d4d" stroke="#4d4d4d" stroke-width="0.15" text-anchor="end">Prop.Faba.</text>
<line x1="335.9" y1="361.39" x2="337.5" y2="361.39" stroke="#333" stroke-width="0.6"/>
<text transform="translate(335.20,376.99) scale(1,1.06)" font-size="5.65" fill="#4d4d4d" stroke="#4d4d4d" stroke-width="0.15" text-anchor="end">Richness</text>
<line x1="335.9" y1="374.59" x2="337.5" y2="374.59" stroke="#333" stroke-width="0.6"/>
<rect x="337" y="10" width="73" height="1" fill="#000" fill-opacity="0.267"/>
<rect x="337" y="10" width="1" height="373" fill="#000" fill-opacity="0.333"/>
<rect x="338" y="11" width="1" height="371" fill="#000" fill-opacity="0.106"/>
<rect x="409" y="10" width="1" height="373" fill="#000" fill-opacity="0.333"/>
<rect x="337" y="382" width="73" height="1" fill="#000" fill-opacity="0.333"/>
<line x1="353.70" y1="382.5" x2="353.70" y2="384.5" stroke="#333" stroke-width="0.6"/>
<text transform="translate(353.70,389.40) scale(1,1.06)" font-size="5.65" fill="#4d4d4d" stroke="#4d4d4d" stroke-width="0.15" text-anchor="middle">−1</text>
<line x1="372.90" y1="382.5" x2="372.90" y2="384.5" stroke="#333" stroke-width="0.6"/>
<text transform="translate(372.90,389.40) scale(1,1.06)" font-size="5.65" fill="#4d4d4d" stroke="#4d4d4d" stroke-width="0.15" text-anchor="middle">0</text>
<line x1="392.10" y1="382.5" x2="392.10" y2="384.5" stroke="#333" stroke-width="0.6"/>
<text transform="translate(392.10,389.40) scale(1,1.06)" font-size="5.65" fill="#4d4d4d" stroke="#4d4d4d" stroke-width="0.15" text-anchor="middle">1</text>
<text transform="translate(373.50,395.80) scale(1,1.18)" font-size="5.75" fill="#000" stroke="#000" stroke-width="0.05" text-anchor="middle">Coefficients of CDM<tspan font-size="4.2" dy="1" stroke-width="0.04">fungicide</tspan></text>
<text x="337.50" y="8.1" font-size="8.6" font-weight="bold" fill="#000">c</text>
<line x1="478.35" y1="10.5" x2="478.35" y2="383.5" stroke="#f2f2f2" stroke-width="0.6"/>
<line x1="500.05" y1="10.5" x2="500.05" y2="383.5" stroke="#f2f2f2" stroke-width="0.6"/>
<line x1="521.75" y1="10.5" x2="521.75" y2="383.5" stroke="#f2f2f2" stroke-width="0.6"/>
<line x1="543.45" y1="10.5" x2="543.45" y2="383.5" stroke="#f2f2f2" stroke-width="0.6"/>
<line x1="489.20" y1="10.5" x2="489.20" y2="383.5" stroke="#ebebeb" stroke-width="0.9"/>
<line x1="510.90" y1="10.5" x2="510.90" y2="383.5" stroke="#ebebeb" stroke-width="0.9"/>
<line x1="532.60" y1="10.5" x2="532.60" y2="383.5" stroke="#ebebeb" stroke-width="0.9"/>
<line x1="475.5" y1="18.44" x2="547.5" y2="18.44" stroke="#ebebeb" stroke-width="0.9"/>
<line x1="475.5" y1="31.66" x2="547.5" y2="31.66" stroke="#ebebeb" stroke-width="0.9"/>
<line x1="475.5" y1="44.89" x2="547.5" y2="44.89" stroke="#ebebeb" stroke-width="0.9"/>
<line x1="475.5" y1="58.12" x2="547.5" y2="58.12" stroke="#ebebeb" stroke-width="0.9"/>
<line x1="475.5" y1="71.34" x2="547.5" y2="71.34" stroke="#ebebeb" stroke-width="0.9"/>
<line x1="475.5" y1="84.57" x2="547.5" y2="84.57" stroke="#ebebeb" stroke-width="0.9"/>
<line x1="475.5" y1="97.80" x2="547.5" y2="97.80" stroke="#ebebeb" stroke-width="0.9"/>
<line x1="475.5" y1="111.02" x2="547.5" y2="111.02" stroke="#ebebeb" stroke-width="0.9"/>
<line x1="475.5" y1="124.25" x2="547.5" y2="124.25" stroke="#ebebeb" stroke-width="0.9"/>
<line x1="475.5" y1="137.48" x2="547.5" y2="137.48" stroke="#ebebeb" stroke-width="0.9"/>
<line x1="475.5" y1="150.71" x2="547.5" y2="150.71" stroke="#ebebeb" stroke-width="0.9"/>
<line x1="475.5" y1="163.93" x2="547.5" y2="163.93" stroke="#ebebeb" stroke-width="0.9"/>
<line x1="475.5" y1="177.16" x2="547.5" y2="177.16" stroke="#ebebeb" stroke-width="0.9"/>
<line x1="475.5" y1="190.39" x2="547.5" y2="190.39" stroke="#ebebeb" stroke-width="0.9"/>
<line x1="475.5" y1="203.61" x2="547.5" y2="203.61" stroke="#ebebeb" stroke-width="0.9"/>
<line x1="475.5" y1="216.84" x2="547.5" y2="216.84" stroke="#ebebeb" stroke-width="0.9"/>
<line x1="475.5" y1="230.07" x2="547.5" y2="230.07" stroke="#ebebeb" stroke-width="0.9"/>
<line x1="475.5" y1="243.29" x2="547.5" y2="243.29" stroke="#ebebeb" stroke-width="0.9"/>
<line x1="475.5" y1="256.52" x2="547.5" y2="256.52" stroke="#ebebeb" stroke-width="0.9"/>
<line x1="475.5" y1="269.75" x2="547.5" y2="269.75" stroke="#ebebeb" stroke-width="0.9"/>
<line x1="475.5" y1="282.98" x2="547.5" y2="282.98" stroke="#ebebeb" stroke-width="0.9"/>
<line x1="475.5" y1="296.20" x2="547.5" y2="296.20" stroke="#ebebeb" stroke-width="0.9"/>
<line x1="475.5" y1="309.43" x2="547.5" y2="309.43" stroke="#ebebeb" stroke-width="0.9"/>
<line x1="475.5" y1="322.66" x2="547.5" y2="322.66" stroke="#ebebeb" stroke-width="0.9"/>
<line x1="475.5" y1="335.88" x2="547.5" y2="335.88" stroke="#ebebeb" stroke-width="0.9"/>
<line x1="475.5" y1="349.11" x2="547.5" y2="349.11" stroke="#ebebeb" stroke-width="0.9"/>
<line x1="475.5" y1="362.34" x2="547.5" y2="362.34" stroke="#ebebeb" stroke-width="0.9"/>
<line x1="475.5" y1="375.56" x2="547.5" y2="375.56" stroke="#ebebeb" stroke-width="0.9"/>
<rect x="475.5" y="104.41" width="72" height="158.72" fill="#d0d0d0" fill-opacity="0.75"/>
<line x1="510.5" y1="11" x2="510.5" y2="383.5" stroke="#909090" stroke-width="1" stroke-dasharray="1,1"/>
<text transform="translate(493.02,16.74) scale(1,1.08)" font-size="7.55" fill="#fff" fill-opacity="0.85" stroke="#fff" stroke-width="1.1" stroke-opacity="0.85" stroke-linejoin="round" text-anchor="middle">−0.75</text>
<text transform="translate(493.02,16.74) scale(1,1.08)" font-size="7.55" fill="#A82E30" stroke="#A82E30" stroke-width="0.08" text-anchor="middle">−0.75</text>
<text transform="translate(503.87,29.96) scale(1,1.08)" font-size="7.55" fill="#fff" fill-opacity="0.85" stroke="#fff" stroke-width="1.1" stroke-opacity="0.85" stroke-linejoin="round" text-anchor="middle">−0.25</text>
<text transform="translate(503.87,29.96) scale(1,1.08)" font-size="7.55" fill="#6A3D9A" stroke="#6A3D9A" stroke-width="0.08" text-anchor="middle">−0.25</text>
<text transform="translate(504.74,43.19) scale(1,1.08)" font-size="7.55" fill="#fff" fill-opacity="0.85" stroke="#fff" stroke-width="1.1" stroke-opacity="0.85" stroke-linejoin="round" text-anchor="middle">−0.21</text>
<text transform="translate(504.74,43.19) scale(1,1.08)" font-size="7.55" fill="#87CEFA" stroke="#87CEFA" stroke-width="0.08" text-anchor="middle">−0.21</text>
<text transform="translate(505.83,56.42) scale(1,1.08)" font-size="7.55" fill="#fff" fill-opacity="0.85" stroke="#fff" stroke-width="1.1" stroke-opacity="0.85" stroke-linejoin="round" text-anchor="middle">−0.16</text>
<text transform="translate(505.83,56.42) scale(1,1.08)" font-size="7.55" fill="#F4A09C" stroke="#F4A09C" stroke-width="0.08" text-anchor="middle">−0.16</text>
<text transform="translate(508.65,69.64) scale(1,1.08)" font-size="7.55" fill="#fff" fill-opacity="0.85" stroke="#fff" stroke-width="1.1" stroke-opacity="0.85" stroke-linejoin="round" text-anchor="middle">−0.03</text>
<text transform="translate(508.65,69.64) scale(1,1.08)" font-size="7.55" fill="#000080" stroke="#000080" stroke-width="0.08" text-anchor="middle">−0.03</text>
<text transform="translate(508.65,82.87) scale(1,1.08)" font-size="7.55" fill="#fff" fill-opacity="0.85" stroke="#fff" stroke-width="1.1" stroke-opacity="0.85" stroke-linejoin="round" text-anchor="middle">−0.03</text>
<text transform="translate(508.65,82.87) scale(1,1.08)" font-size="7.55" fill="#F7C600" stroke="#F7C600" stroke-width="0.08" text-anchor="middle">−0.03</text>
<text transform="translate(509.08,96.10) scale(1,1.08)" font-size="7.55" fill="#fff" fill-opacity="0.85" stroke="#fff" stroke-width="1.1" stroke-opacity="0.85" stroke-linejoin="round" text-anchor="middle">−0.01</text>
<text transform="translate(509.08,96.10) scale(1,1.08)" font-size="7.55" fill="#8C510A" stroke="#8C510A" stroke-width="0.08" text-anchor="middle">−0.01</text>
<text transform="translate(510.90,109.32) scale(1,1.08)" font-size="7.55" fill="#fff" fill-opacity="0.85" stroke="#fff" stroke-width="1.1" stroke-opacity="0.85" stroke-linejoin="round" text-anchor="middle">0</text>
<text transform="translate(510.90,109.32) scale(1,1.08)" font-size="7.55" fill="#EEA020" stroke="#EEA020" stroke-width="0.08" text-anchor="middle">0</text>
<text transform="translate(510.90,122.55) scale(1,1.08)" font-size="7.55" fill="#fff" fill-opacity="0.85" stroke="#fff" stroke-width="1.1" stroke-opacity="0.85" stroke-linejoin="round" text-anchor="middle">0</text>
<text transform="translate(510.90,122.55) scale(1,1.08)" font-size="7.55" fill="#999999" stroke="#999999" stroke-width="0.08" text-anchor="middle">0</text>
<text transform="translate(510.90,135.78) scale(1,1.08)" font-size="7.55" fill="#fff" fill-opacity="0.85" stroke="#fff" stroke-width="1.1" stroke-opacity="0.85" stroke-linejoin="round" text-anchor="middle">0</text>
<text transform="translate(510.90,135.78) scale(1,1.08)" font-size="7.55" fill="#8B008B" stroke="#8B008B" stroke-width="0.08" text-anchor="middle">0</text>
<text transform="translate(510.90,149.01) scale(1,1.08)" font-size="7.55" fill="#fff" fill-opacity="0.85" stroke="#fff" stroke-width="1.1" stroke-opacity="0.85" stroke-linejoin="round" text-anchor="middle">0</text>
<text transform="translate(510.90,149.01) scale(1,1.08)" font-size="7.55" fill="#000000" stroke="#000000" stroke-width="0.08" text-anchor="middle">0</text>
<text transform="translate(510.90,162.23) scale(1,1.08)" font-size="7.55" fill="#fff" fill-opacity="0.85" stroke="#fff" stroke-width="1.1" stroke-opacity="0.85" stroke-linejoin="round" text-anchor="middle">0</text>
<text transform="translate(510.90,162.23) scale(1,1.08)" font-size="7.55" fill="#E7298A" stroke="#E7298A" stroke-width="0.08" text-anchor="middle">0</text>
<text transform="translate(510.90,175.46) scale(1,1.08)" font-size="7.55" fill="#fff" fill-opacity="0.85" stroke="#fff" stroke-width="1.1" stroke-opacity="0.85" stroke-linejoin="round" text-anchor="middle">0</text>
<text transform="translate(510.90,175.46) scale(1,1.08)" font-size="7.55" fill="#3A6B9E" stroke="#3A6B9E" stroke-width="0.08" text-anchor="middle">0</text>
<text transform="translate(510.90,188.69) scale(1,1.08)" font-size="7.55" fill="#fff" fill-opacity="0.85" stroke="#fff" stroke-width="1.1" stroke-opacity="0.85" stroke-linejoin="round" text-anchor="middle">0</text>
<text transform="translate(510.90,188.69) scale(1,1.08)" font-size="7.55" fill="#FF7F00" stroke="#FF7F00" stroke-width="0.08" text-anchor="middle">0</text>
<text transform="translate(510.90,201.91) scale(1,1.08)" font-size="7.55" fill="#fff" fill-opacity="0.85" stroke="#fff" stroke-width="1.1" stroke-opacity="0.85" stroke-linejoin="round" text-anchor="middle">0</text>
<text transform="translate(510.90,201.91) scale(1,1.08)" font-size="7.55" fill="#E31A1C" stroke="#E31A1C" stroke-width="0.08" text-anchor="middle">0</text>
<text transform="translate(510.90,215.14) scale(1,1.08)" font-size="7.55" fill="#fff" fill-opacity="0.85" stroke="#fff" stroke-width="1.1" stroke-opacity="0.85" stroke-linejoin="round" text-anchor="middle">0</text>
<text transform="translate(510.90,215.14) scale(1,1.08)" font-size="7.55" fill="#17BECF" stroke="#17BECF" stroke-width="0.08" text-anchor="middle">0</text>
<text transform="translate(510.90,228.37) scale(1,1.08)" font-size="7.55" fill="#fff" fill-opacity="0.85" stroke="#fff" stroke-width="1.1" stroke-opacity="0.85" stroke-linejoin="round" text-anchor="middle">0</text>
<text transform="translate(510.90,228.37) scale(1,1.08)" font-size="7.55" fill="#1E90FF" stroke="#1E90FF" stroke-width="0.08" text-anchor="middle">0</text>
<text transform="translate(510.90,241.59) scale(1,1.08)" font-size="7.55" fill="#fff" fill-opacity="0.85" stroke="#fff" stroke-width="1.1" stroke-opacity="0.85" stroke-linejoin="round" text-anchor="middle">0</text>
<text transform="translate(510.90,241.59) scale(1,1.08)" font-size="7.55" fill="#90EE90" stroke="#90EE90" stroke-width="0.08" text-anchor="middle">0</text>
<text transform="translate(510.90,254.82) scale(1,1.08)" font-size="7.55" fill="#fff" fill-opacity="0.85" stroke="#fff" stroke-width="1.1" stroke-opacity="0.85" stroke-linejoin="round" text-anchor="middle">0</text>
<text transform="translate(510.90,254.82) scale(1,1.08)" font-size="7.55" fill="#FDB863" stroke="#FDB863" stroke-width="0.08" text-anchor="middle">0</text>
<text transform="translate(509.92,268.05) scale(1,1.08)" font-size="7.55" fill="#fff" fill-opacity="0.85" stroke="#fff" stroke-width="1.1" stroke-opacity="0.85" stroke-linejoin="round" text-anchor="middle">0.01</text>
<text transform="translate(509.92,268.05) scale(1,1.08)" font-size="7.55" fill="#333333" stroke="#333333" stroke-width="0.08" text-anchor="middle">0.01</text>
<text transform="translate(509.92,281.28) scale(1,1.08)" font-size="7.55" fill="#fff" fill-opacity="0.85" stroke="#fff" stroke-width="1.1" stroke-opacity="0.85" stroke-linejoin="round" text-anchor="middle">0.01</text>
<text transform="translate(509.92,281.28) scale(1,1.08)" font-size="7.55" fill="#8B8B00" stroke="#8B8B00" stroke-width="0.08" text-anchor="middle">0.01</text>
<text transform="translate(510.35,294.50) scale(1,1.08)" font-size="7.55" fill="#fff" fill-opacity="0.85" stroke="#fff" stroke-width="1.1" stroke-opacity="0.85" stroke-linejoin="round" text-anchor="middle">0.03</text>
<text transform="translate(510.35,294.50) scale(1,1.08)" font-size="7.55" fill="#EE82EE" stroke="#EE82EE" stroke-width="0.08" text-anchor="middle">0.03</text>
<text transform="translate(510.57,307.73) scale(1,1.08)" font-size="7.55" fill="#fff" fill-opacity="0.85" stroke="#fff" stroke-width="1.1" stroke-opacity="0.85" stroke-linejoin="round" text-anchor="middle">0.04</text>
<text transform="translate(510.57,307.73) scale(1,1.08)" font-size="7.55" fill="#B5356A" stroke="#B5356A" stroke-width="0.08" text-anchor="middle">0.04</text>
<text transform="translate(510.57,320.96) scale(1,1.08)" font-size="7.55" fill="#fff" fill-opacity="0.85" stroke="#fff" stroke-width="1.1" stroke-opacity="0.85" stroke-linejoin="round" text-anchor="middle">0.04</text>
<text transform="translate(510.57,320.96) scale(1,1.08)" font-size="7.55" fill="#1ED41E" stroke="#1ED41E" stroke-width="0.08" text-anchor="middle">0.04</text>
<text transform="translate(511.22,334.18) scale(1,1.08)" font-size="7.55" fill="#fff" fill-opacity="0.85" stroke="#fff" stroke-width="1.1" stroke-opacity="0.85" stroke-linejoin="round" text-anchor="middle">0.07</text>
<text transform="translate(511.22,334.18) scale(1,1.08)" font-size="7.55" fill="#1A9A1A" stroke="#1A9A1A" stroke-width="0.08" text-anchor="middle">0.07</text>
<text transform="translate(512.09,347.41) scale(1,1.08)" font-size="7.55" fill="#fff" fill-opacity="0.85" stroke="#fff" stroke-width="1.1" stroke-opacity="0.85" stroke-linejoin="round" text-anchor="middle">0.11</text>
<text transform="translate(512.09,347.41) scale(1,1.08)" font-size="7.55" fill="#FF4444" stroke="#FF4444" stroke-width="0.08" text-anchor="middle">0.11</text>
<text transform="translate(514.44,360.64) scale(1,1.08)" font-size="7.55" fill="#fff" fill-opacity="0.85" stroke="#fff" stroke-width="1.1" stroke-opacity="0.85" stroke-linejoin="round" text-anchor="middle">0.2</text>
<text transform="translate(514.44,360.64) scale(1,1.08)" font-size="7.55" fill="#9ACD32" stroke="#9ACD32" stroke-width="0.08" text-anchor="middle">0.2</text>
<text transform="translate(517.51,373.86) scale(1,1.08)" font-size="7.55" fill="#fff" fill-opacity="0.85" stroke="#fff" stroke-width="1.1" stroke-opacity="0.85" stroke-linejoin="round" text-anchor="middle">0.36</text>
<text transform="translate(517.51,373.86) scale(1,1.08)" font-size="7.55" fill="#0000FF" stroke="#0000FF" stroke-width="0.08" text-anchor="middle">0.36</text>
<line x1="482.47" y1="18.44" x2="504.17" y2="18.44" stroke="#A82E30" stroke-width="0.9"/>
<circle cx="494.62" cy="18.44" r="1.9" fill="#A82E30"/>
<line x1="503.74" y1="31.66" x2="511.33" y2="31.66" stroke="#6A3D9A" stroke-width="0.9"/>
<circle cx="505.47" cy="31.66" r="1.9" fill="#6A3D9A"/>
<line x1="504.82" y1="44.89" x2="508.30" y2="44.89" stroke="#87CEFA" stroke-width="0.9"/>
<circle cx="506.34" cy="44.89" r="1.9" fill="#87CEFA"/>
<line x1="506.56" y1="58.12" x2="508.30" y2="58.12" stroke="#F4A09C" stroke-width="0.9"/>
<circle cx="507.43" cy="58.12" r="1.9" fill="#F4A09C"/>
<line x1="509.60" y1="71.34" x2="510.90" y2="71.34" stroke="#000080" stroke-width="0.9"/>
<circle cx="510.25" cy="71.34" r="1.9" fill="#000080"/>
<line x1="509.60" y1="84.57" x2="510.90" y2="84.57" stroke="#F7C600" stroke-width="0.9"/>
<circle cx="510.25" cy="84.57" r="1.9" fill="#F7C600"/>
<line x1="510.25" y1="97.80" x2="511.12" y2="97.80" stroke="#8C510A" stroke-width="0.9"/>
<circle cx="510.68" cy="97.80" r="1.9" fill="#8C510A"/>
<circle cx="510.90" cy="111.02" r="1.9" fill="#EEA020"/>
<circle cx="510.90" cy="124.25" r="1.9" fill="#999999"/>
<circle cx="510.90" cy="137.48" r="1.9" fill="#8B008B"/>
<circle cx="510.90" cy="150.71" r="1.9" fill="#000000"/>
<circle cx="510.90" cy="163.93" r="1.9" fill="#E7298A"/>
<circle cx="510.90" cy="177.16" r="1.9" fill="#3A6B9E"/>
<circle cx="510.90" cy="190.39" r="1.9" fill="#FF7F00"/>
<circle cx="510.90" cy="203.61" r="1.9" fill="#E31A1C"/>
<circle cx="510.90" cy="216.84" r="1.9" fill="#17BECF"/>
<circle cx="510.90" cy="230.07" r="1.9" fill="#1E90FF"/>
<circle cx="510.90" cy="243.29" r="1.9" fill="#90EE90"/>
<circle cx="510.90" cy="256.52" r="1.9" fill="#FDB863"/>
<line x1="510.90" y1="269.75" x2="511.33" y2="269.75" stroke="#333333" stroke-width="0.9"/>
<circle cx="511.12" cy="269.75" r="1.9" fill="#333333"/>
<line x1="510.90" y1="282.98" x2="511.33" y2="282.98" stroke="#8B8B00" stroke-width="0.9"/>
<circle cx="511.12" cy="282.98" r="1.9" fill="#8B8B00"/>
<line x1="511.12" y1="296.20" x2="511.98" y2="296.20" stroke="#EE82EE" stroke-width="0.9"/>
<circle cx="511.55" cy="296.20" r="1.9" fill="#EE82EE"/>
<line x1="511.33" y1="309.43" x2="512.20" y2="309.43" stroke="#B5356A" stroke-width="0.9"/>
<circle cx="511.77" cy="309.43" r="1.9" fill="#B5356A"/>
<line x1="511.33" y1="322.66" x2="512.20" y2="322.66" stroke="#1ED41E" stroke-width="0.9"/>
<circle cx="511.77" cy="322.66" r="1.9" fill="#1ED41E"/>
<line x1="511.33" y1="335.88" x2="520.88" y2="335.88" stroke="#1A9A1A" stroke-width="0.9"/>
<circle cx="512.42" cy="335.88" r="1.9" fill="#1A9A1A"/>
<line x1="512.42" y1="349.11" x2="514.15" y2="349.11" stroke="#FF4444" stroke-width="0.9"/>
<circle cx="513.29" cy="349.11" r="1.9" fill="#FF4444"/>
<line x1="514.37" y1="362.34" x2="516.11" y2="362.34" stroke="#9ACD32" stroke-width="0.9"/>
<circle cx="515.24" cy="362.34" r="1.9" fill="#9ACD32"/>
<line x1="510.90" y1="375.56" x2="522.18" y2="375.56" stroke="#0000FF" stroke-width="0.9"/>
<circle cx="518.71" cy="375.56" r="1.9" fill="#0000FF"/>
<text transform="translate(473.20,20.84) scale(1,1.06)" font-size="5.65" fill="#4d4d4d" stroke="#4d4d4d" stroke-width="0.15" text-anchor="end">Prop.Bras.</text>
<line x1="473.9" y1="18.44" x2="475.5" y2="18.44" stroke="#333" stroke-width="0.6"/>
<text transform="translate(473.20,34.06) scale(1,1.06)" font-size="5.65" fill="#4d4d4d" stroke="#4d4d4d" stroke-width="0.15" text-anchor="end">Poaceae</text>
<line x1="473.9" y1="31.66" x2="475.5" y2="31.66" stroke="#333" stroke-width="0.6"/>
<text transform="translate(473.20,47.29) scale(1,1.06)" font-size="5.65" fill="#4d4d4d" stroke="#4d4d4d" stroke-width="0.15" text-anchor="end">Prop.Summer</text>
<line x1="473.9" y1="44.89" x2="475.5" y2="44.89" stroke="#333" stroke-width="0.6"/>
<text transform="translate(473.20,60.52) scale(1,1.06)" font-size="5.65" fill="#4d4d4d" stroke="#4d4d4d" stroke-width="0.15" text-anchor="end">Other</text>
<line x1="473.9" y1="58.12" x2="475.5" y2="58.12" stroke="#333" stroke-width="0.6"/>
<text transform="translate(473.20,73.74) scale(1,1.06)" font-size="5.65" fill="#4d4d4d" stroke="#4d4d4d" stroke-width="0.15" text-anchor="end">Fabaceae</text>
<line x1="473.9" y1="71.34" x2="475.5" y2="71.34" stroke="#333" stroke-width="0.6"/>
<text transform="translate(473.20,86.97) scale(1,1.06)" font-size="5.65" fill="#4d4d4d" stroke="#4d4d4d" stroke-width="0.15" text-anchor="end">Dominance</text>
<line x1="473.9" y1="84.57" x2="475.5" y2="84.57" stroke="#333" stroke-width="0.6"/>
<text transform="translate(473.20,100.20) scale(1,1.06)" font-size="5.65" fill="#4d4d4d" stroke="#4d4d4d" stroke-width="0.15" text-anchor="end">Spring</text>
<line x1="473.9" y1="97.80" x2="475.5" y2="97.80" stroke="#333" stroke-width="0.6"/>
<text transform="translate(473.20,113.42) scale(1,1.06)" font-size="5.65" fill="#4d4d4d" stroke="#4d4d4d" stroke-width="0.15" text-anchor="end">Winter</text>
<line x1="473.9" y1="111.02" x2="475.5" y2="111.02" stroke="#333" stroke-width="0.6"/>
<text transform="translate(473.20,126.65) scale(1,1.06)" font-size="5.65" fill="#4d4d4d" stroke="#4d4d4d" stroke-width="0.15" text-anchor="end">Prop.Autumn</text>
<line x1="473.9" y1="124.25" x2="475.5" y2="124.25" stroke="#333" stroke-width="0.6"/>
<text transform="translate(473.20,139.88) scale(1,1.06)" font-size="5.65" fill="#4d4d4d" stroke="#4d4d4d" stroke-width="0.15" text-anchor="end">Prop.Spring</text>
<line x1="473.9" y1="137.48" x2="475.5" y2="137.48" stroke="#333" stroke-width="0.6"/>
<text transform="translate(473.20,153.11) scale(1,1.06)" font-size="5.65" fill="#4d4d4d" stroke="#4d4d4d" stroke-width="0.15" text-anchor="end">N.sowing.Seasons</text>
<line x1="473.9" y1="150.71" x2="475.5" y2="150.71" stroke="#333" stroke-width="0.6"/>
<text transform="translate(473.20,166.33) scale(1,1.06)" font-size="5.65" fill="#4d4d4d" stroke="#4d4d4d" stroke-width="0.15" text-anchor="end">Prop.Other</text>
<line x1="473.9" y1="163.93" x2="475.5" y2="163.93" stroke="#333" stroke-width="0.6"/>
<text transform="translate(473.20,179.56) scale(1,1.06)" font-size="5.65" fill="#4d4d4d" stroke="#4d4d4d" stroke-width="0.15" text-anchor="end">Prop.Faba.</text>
<line x1="473.9" y1="177.16" x2="475.5" y2="177.16" stroke="#333" stroke-width="0.6"/>
<text transform="translate(473.20,192.79) scale(1,1.06)" font-size="5.65" fill="#4d4d4d" stroke="#4d4d4d" stroke-width="0.15" text-anchor="end">Prop.Poaceae</text>
<line x1="473.9" y1="190.39" x2="475.5" y2="190.39" stroke="#333" stroke-width="0.6"/>
<text transform="translate(473.20,206.01) scale(1,1.06)" font-size="5.65" fill="#4d4d4d" stroke="#4d4d4d" stroke-width="0.15" text-anchor="end">N.Families</text>
<line x1="473.9" y1="203.61" x2="475.5" y2="203.61" stroke="#333" stroke-width="0.6"/>
<text transform="translate(473.20,219.24) scale(1,1.06)" font-size="5.65" fill="#4d4d4d" stroke="#4d4d4d" stroke-width="0.15" text-anchor="end">Intercrop</text>
<line x1="473.9" y1="216.84" x2="475.5" y2="216.84" stroke="#333" stroke-width="0.6"/>
<text transform="translate(473.20,232.47) scale(1,1.06)" font-size="5.65" fill="#4d4d4d" stroke="#4d4d4d" stroke-width="0.15" text-anchor="end">Prop.Intercrop</text>
<line x1="473.9" y1="230.07" x2="475.5" y2="230.07" stroke="#333" stroke-width="0.6"/>
<text transform="translate(473.20,245.69) scale(1,1.06)" font-size="5.65" fill="#4d4d4d" stroke="#4d4d4d" stroke-width="0.15" text-anchor="end">Prop.T.grassland</text>
<line x1="473.9" y1="243.29" x2="475.5" y2="243.29" stroke="#333" stroke-width="0.6"/>
<text transform="translate(473.20,258.92) scale(1,1.06)" font-size="5.65" fill="#4d4d4d" stroke="#4d4d4d" stroke-width="0.15" text-anchor="end">Evenness</text>
<line x1="473.9" y1="256.52" x2="475.5" y2="256.52" stroke="#333" stroke-width="0.6"/>
<text transform="translate(473.20,272.15) scale(1,1.06)" font-size="5.65" fill="#4d4d4d" stroke="#4d4d4d" stroke-width="0.15" text-anchor="end">Autumn</text>
<line x1="473.9" y1="269.75" x2="475.5" y2="269.75" stroke="#333" stroke-width="0.6"/>
<text transform="translate(473.20,285.38) scale(1,1.06)" font-size="5.65" fill="#4d4d4d" stroke="#4d4d4d" stroke-width="0.15" text-anchor="end">Prop.Winter</text>
<line x1="473.9" y1="282.98" x2="475.5" y2="282.98" stroke="#333" stroke-width="0.6"/>
<text transform="translate(473.20,298.60) scale(1,1.06)" font-size="5.65" fill="#4d4d4d" stroke="#4d4d4d" stroke-width="0.15" text-anchor="end">Cover crop</text>
<line x1="473.9" y1="296.20" x2="475.5" y2="296.20" stroke="#333" stroke-width="0.6"/>
<text transform="translate(473.20,311.83) scale(1,1.06)" font-size="5.65" fill="#4d4d4d" stroke="#4d4d4d" stroke-width="0.15" text-anchor="end">Brassicaceae</text>
<line x1="473.9" y1="309.43" x2="475.5" y2="309.43" stroke="#333" stroke-width="0.6"/>
<text transform="translate(473.20,325.06) scale(1,1.06)" font-size="5.65" fill="#4d4d4d" stroke="#4d4d4d" stroke-width="0.15" text-anchor="end">T.grassland</text>
<line x1="473.9" y1="322.66" x2="475.5" y2="322.66" stroke="#333" stroke-width="0.6"/>
<text transform="translate(473.20,338.28) scale(1,1.06)" font-size="5.65" fill="#4d4d4d" stroke="#4d4d4d" stroke-width="0.15" text-anchor="end">Richness</text>
<line x1="473.9" y1="335.88" x2="475.5" y2="335.88" stroke="#333" stroke-width="0.6"/>
<text transform="translate(473.20,351.51) scale(1,1.06)" font-size="5.65" fill="#4d4d4d" stroke="#4d4d4d" stroke-width="0.15" text-anchor="end">Prop.Cover crop</text>
<line x1="473.9" y1="349.11" x2="475.5" y2="349.11" stroke="#333" stroke-width="0.6"/>
<text transform="translate(473.20,364.74) scale(1,1.06)" font-size="5.65" fill="#4d4d4d" stroke="#4d4d4d" stroke-width="0.15" text-anchor="end">Summer</text>
<line x1="473.9" y1="362.34" x2="475.5" y2="362.34" stroke="#333" stroke-width="0.6"/>
<text transform="translate(473.20,377.96) scale(1,1.06)" font-size="5.65" fill="#4d4d4d" stroke="#4d4d4d" stroke-width="0.15" text-anchor="end">Proportional abundance</text>
<line x1="473.9" y1="375.56" x2="475.5" y2="375.56" stroke="#333" stroke-width="0.6"/>
<rect x="475" y="10" width="73" height="1" fill="#000" fill-opacity="0.247"/>
<rect x="475" y="10" width="1" height="374" fill="#000" fill-opacity="0.267"/>
<rect x="546" y="10" width="1" height="374" fill="#000" fill-opacity="0.267"/>
<rect x="547" y="10" width="1" height="374" fill="#000" fill-opacity="0.122"/>
<rect x="475" y="383" width="73" height="1" fill="#000" fill-opacity="0.467"/>
<line x1="489.20" y1="383.5" x2="489.20" y2="385.5" stroke="#333" stroke-width="0.6"/>
<text transform="translate(489.20,390.40) scale(1,1.06)" font-size="5.65" fill="#4d4d4d" stroke="#4d4d4d" stroke-width="0.15" text-anchor="middle">−1</text>
<line x1="510.90" y1="383.5" x2="510.90" y2="385.5" stroke="#333" stroke-width="0.6"/>
<text transform="translate(510.90,390.40) scale(1,1.06)" font-size="5.65" fill="#4d4d4d" stroke="#4d4d4d" stroke-width="0.15" text-anchor="middle">0</text>
<line x1="532.60" y1="383.5" x2="532.60" y2="385.5" stroke="#333" stroke-width="0.6"/>
<text transform="translate(532.60,390.40) scale(1,1.06)" font-size="5.65" fill="#4d4d4d" stroke="#4d4d4d" stroke-width="0.15" text-anchor="middle">1</text>
<text transform="translate(511.50,396.80) scale(1,1.18)" font-size="5.75" fill="#000" stroke="#000" stroke-width="0.05" text-anchor="middle">Coefficients of CDM<tspan font-size="4.2" dy="1" stroke-width="0.04">insecticide</tspan></text>
<text x="475.50" y="8.1" font-size="8.6" font-weight="bold" fill="#000">d</text>
<line x1="624.00" y1="10.5" x2="624.00" y2="383.5" stroke="#f2f2f2" stroke-width="0.6"/>
<line x1="640.40" y1="10.5" x2="640.40" y2="383.5" stroke="#f2f2f2" stroke-width="0.6"/>
<line x1="656.80" y1="10.5" x2="656.80" y2="383.5" stroke="#f2f2f2" stroke-width="0.6"/>
<line x1="673.20" y1="10.5" x2="673.20" y2="383.5" stroke="#f2f2f2" stroke-width="0.6"/>
<line x1="615.80" y1="10.5" x2="615.80" y2="383.5" stroke="#ebebeb" stroke-width="0.9"/>
<line x1="632.20" y1="10.5" x2="632.20" y2="383.5" stroke="#ebebeb" stroke-width="0.9"/>
<line x1="648.60" y1="10.5" x2="648.60" y2="383.5" stroke="#ebebeb" stroke-width="0.9"/>
<line x1="665.00" y1="10.5" x2="665.00" y2="383.5" stroke="#ebebeb" stroke-width="0.9"/>
<line x1="681.40" y1="10.5" x2="681.40" y2="383.5" stroke="#ebebeb" stroke-width="0.9"/>
<line x1="612.5" y1="18.44" x2="684.5" y2="18.44" stroke="#ebebeb" stroke-width="0.9"/>
<line x1="612.5" y1="31.66" x2="684.5" y2="31.66" stroke="#ebebeb" stroke-width="0.9"/>
<line x1="612.5" y1="44.89" x2="684.5" y2="44.89" stroke="#ebebeb" stroke-width="0.9"/>
<line x1="612.5" y1="58.12" x2="684.5" y2="58.12" stroke="#ebebeb" stroke-width="0.9"/>
<line x1="612.5" y1="71.34" x2="684.5" y2="71.34" stroke="#ebebeb" stroke-width="0.9"/>
<line x1="612.5" y1="84.57" x2="684.5" y2="84.57" stroke="#ebebeb" stroke-width="0.9"/>
<line x1="612.5" y1="97.80" x2="684.5" y2="97.80" stroke="#ebebeb" stroke-width="0.9"/>
<line x1="612.5" y1="111.02" x2="684.5" y2="111.02" stroke="#ebebeb" stroke-width="0.9"/>
<line x1="612.5" y1="124.25" x2="684.5" y2="124.25" stroke="#ebebeb" stroke-width="0.9"/>
<line x1="612.5" y1="137.48" x2="684.5" y2="137.48" stroke="#ebebeb" stroke-width="0.9"/>
<line x1="612.5" y1="150.71" x2="684.5" y2="150.71" stroke="#ebebeb" stroke-width="0.9"/>
<line x1="612.5" y1="163.93" x2="684.5" y2="163.93" stroke="#ebebeb" stroke-width="0.9"/>
<line x1="612.5" y1="177.16" x2="684.5" y2="177.16" stroke="#ebebeb" stroke-width="0.9"/>
<line x1="612.5" y1="190.39" x2="684.5" y2="190.39" stroke="#ebebeb" stroke-width="0.9"/>
<line x1="612.5" y1="203.61" x2="684.5" y2="203.61" stroke="#ebebeb" stroke-width="0.9"/>
<line x1="612.5" y1="216.84" x2="684.5" y2="216.84" stroke="#ebebeb" stroke-width="0.9"/>
<line x1="612.5" y1="230.07" x2="684.5" y2="230.07" stroke="#ebebeb" stroke-width="0.9"/>
<line x1="612.5" y1="243.29" x2="684.5" y2="243.29" stroke="#ebebeb" stroke-width="0.9"/>
<line x1="612.5" y1="256.52" x2="684.5" y2="256.52" stroke="#ebebeb" stroke-width="0.9"/>
<line x1="612.5" y1="269.75" x2="684.5" y2="269.75" stroke="#ebebeb" stroke-width="0.9"/>
<line x1="612.5" y1="282.98" x2="684.5" y2="282.98" stroke="#ebebeb" stroke-width="0.9"/>
<line x1="612.5" y1="296.20" x2="684.5" y2="296.20" stroke="#ebebeb" stroke-width="0.9"/>
<line x1="612.5" y1="309.43" x2="684.5" y2="309.43" stroke="#ebebeb" stroke-width="0.9"/>
<line x1="612.5" y1="322.66" x2="684.5" y2="322.66" stroke="#ebebeb" stroke-width="0.9"/>
<line x1="612.5" y1="335.88" x2="684.5" y2="335.88" stroke="#ebebeb" stroke-width="0.9"/>
<line x1="612.5" y1="349.11" x2="684.5" y2="349.11" stroke="#ebebeb" stroke-width="0.9"/>
<line x1="612.5" y1="362.34" x2="684.5" y2="362.34" stroke="#ebebeb" stroke-width="0.9"/>
<line x1="612.5" y1="375.56" x2="684.5" y2="375.56" stroke="#ebebeb" stroke-width="0.9"/>
<rect x="612.5" y="157.32" width="72" height="52.91" fill="#d0d0d0" fill-opacity="0.75"/>
<line x1="648.5" y1="11" x2="648.5" y2="383.5" stroke="#909090" stroke-width="1" stroke-dasharray="1,1"/>
<text transform="translate(627.98,16.74) scale(1,1.08)" font-size="7.55" fill="#fff" fill-opacity="0.85" stroke="#fff" stroke-width="1.1" stroke-opacity="0.85" stroke-linejoin="round" text-anchor="middle">−0.58</text>
<text transform="translate(627.98,16.74) scale(1,1.08)" font-size="7.55" fill="#A82E30" stroke="#A82E30" stroke-width="0.08" text-anchor="middle">−0.58</text>
<text transform="translate(631.26,29.96) scale(1,1.08)" font-size="7.55" fill="#fff" fill-opacity="0.85" stroke="#fff" stroke-width="1.1" stroke-opacity="0.85" stroke-linejoin="round" text-anchor="middle">−0.48</text>
<text transform="translate(631.26,29.96) scale(1,1.08)" font-size="7.55" fill="#E31A1C" stroke="#E31A1C" stroke-width="0.08" text-anchor="middle">−0.48</text>
<text transform="translate(634.54,43.19) scale(1,1.08)" font-size="7.55" fill="#fff" fill-opacity="0.85" stroke="#fff" stroke-width="1.1" stroke-opacity="0.85" stroke-linejoin="round" text-anchor="middle">−0.38</text>
<text transform="translate(634.54,43.19) scale(1,1.08)" font-size="7.55" fill="#F7C600" stroke="#F7C600" stroke-width="0.08" text-anchor="middle">−0.38</text>
<text transform="translate(639.13,56.42) scale(1,1.08)" font-size="7.55" fill="#fff" fill-opacity="0.85" stroke="#fff" stroke-width="1.1" stroke-opacity="0.85" stroke-linejoin="round" text-anchor="middle">−0.24</text>
<text transform="translate(639.13,56.42) scale(1,1.08)" font-size="7.55" fill="#8B008B" stroke="#8B008B" stroke-width="0.08" text-anchor="middle">−0.24</text>
<text transform="translate(640.11,69.64) scale(1,1.08)" font-size="7.55" fill="#fff" fill-opacity="0.85" stroke="#fff" stroke-width="1.1" stroke-opacity="0.85" stroke-linejoin="round" text-anchor="middle">−0.21</text>
<text transform="translate(640.11,69.64) scale(1,1.08)" font-size="7.55" fill="#0000FF" stroke="#0000FF" stroke-width="0.08" text-anchor="middle">−0.21</text>
<text transform="translate(645.36,82.87) scale(1,1.08)" font-size="7.55" fill="#fff" fill-opacity="0.85" stroke="#fff" stroke-width="1.1" stroke-opacity="0.85" stroke-linejoin="round" text-anchor="middle">−0.05</text>
<text transform="translate(645.36,82.87) scale(1,1.08)" font-size="7.55" fill="#FF7F00" stroke="#FF7F00" stroke-width="0.08" text-anchor="middle">−0.05</text>
<text transform="translate(645.36,96.10) scale(1,1.08)" font-size="7.55" fill="#fff" fill-opacity="0.85" stroke="#fff" stroke-width="1.1" stroke-opacity="0.85" stroke-linejoin="round" text-anchor="middle">−0.05</text>
<text transform="translate(645.36,96.10) scale(1,1.08)" font-size="7.55" fill="#EE82EE" stroke="#EE82EE" stroke-width="0.08" text-anchor="middle">−0.05</text>
<text transform="translate(645.36,109.32) scale(1,1.08)" font-size="7.55" fill="#fff" fill-opacity="0.85" stroke="#fff" stroke-width="1.1" stroke-opacity="0.85" stroke-linejoin="round" text-anchor="middle">−0.05</text>
<text transform="translate(645.36,109.32) scale(1,1.08)" font-size="7.55" fill="#999999" stroke="#999999" stroke-width="0.08" text-anchor="middle">−0.05</text>
<text transform="translate(646.34,122.55) scale(1,1.08)" font-size="7.55" fill="#fff" fill-opacity="0.85" stroke="#fff" stroke-width="1.1" stroke-opacity="0.85" stroke-linejoin="round" text-anchor="middle">−0.02</text>
<text transform="translate(646.34,122.55) scale(1,1.08)" font-size="7.55" fill="#9ACD32" stroke="#9ACD32" stroke-width="0.08" text-anchor="middle">−0.02</text>
<text transform="translate(646.67,135.78) scale(1,1.08)" font-size="7.55" fill="#fff" fill-opacity="0.85" stroke="#fff" stroke-width="1.1" stroke-opacity="0.85" stroke-linejoin="round" text-anchor="middle">−0.01</text>
<text transform="translate(646.67,135.78) scale(1,1.08)" font-size="7.55" fill="#6A3D9A" stroke="#6A3D9A" stroke-width="0.08" text-anchor="middle">−0.01</text>
<text transform="translate(646.67,149.01) scale(1,1.08)" font-size="7.55" fill="#fff" fill-opacity="0.85" stroke="#fff" stroke-width="1.1" stroke-opacity="0.85" stroke-linejoin="round" text-anchor="middle">−0.01</text>
<text transform="translate(646.67,149.01) scale(1,1.08)" font-size="7.55" fill="#333333" stroke="#333333" stroke-width="0.08" text-anchor="middle">−0.01</text>
<text transform="translate(648.60,162.23) scale(1,1.08)" font-size="7.55" fill="#fff" fill-opacity="0.85" stroke="#fff" stroke-width="1.1" stroke-opacity="0.85" stroke-linejoin="round" text-anchor="middle">0</text>
<text transform="translate(648.60,162.23) scale(1,1.08)" font-size="7.55" fill="#8B8B00" stroke="#8B8B00" stroke-width="0.08" text-anchor="middle">0</text>
<text transform="translate(648.60,175.46) scale(1,1.08)" font-size="7.55" fill="#fff" fill-opacity="0.85" stroke="#fff" stroke-width="1.1" stroke-opacity="0.85" stroke-linejoin="round" text-anchor="middle">0</text>
<text transform="translate(648.60,175.46) scale(1,1.08)" font-size="7.55" fill="#000000" stroke="#000000" stroke-width="0.08" text-anchor="middle">0</text>
<text transform="translate(648.60,188.69) scale(1,1.08)" font-size="7.55" fill="#fff" fill-opacity="0.85" stroke="#fff" stroke-width="1.1" stroke-opacity="0.85" stroke-linejoin="round" text-anchor="middle">0</text>
<text transform="translate(648.60,188.69) scale(1,1.08)" font-size="7.55" fill="#E7298A" stroke="#E7298A" stroke-width="0.08" text-anchor="middle">0</text>
<text transform="translate(648.60,201.91) scale(1,1.08)" font-size="7.55" fill="#fff" fill-opacity="0.85" stroke="#fff" stroke-width="1.1" stroke-opacity="0.85" stroke-linejoin="round" text-anchor="middle">0</text>
<text transform="translate(648.60,201.91) scale(1,1.08)" font-size="7.55" fill="#FDB863" stroke="#FDB863" stroke-width="0.08" text-anchor="middle">0</text>
<text transform="translate(647.73,215.14) scale(1,1.08)" font-size="7.55" fill="#fff" fill-opacity="0.85" stroke="#fff" stroke-width="1.1" stroke-opacity="0.85" stroke-linejoin="round" text-anchor="middle">0.01</text>
<text transform="translate(647.73,215.14) scale(1,1.08)" font-size="7.55" fill="#8C510A" stroke="#8C510A" stroke-width="0.08" text-anchor="middle">0.01</text>
<text transform="translate(648.06,228.37) scale(1,1.08)" font-size="7.55" fill="#fff" fill-opacity="0.85" stroke="#fff" stroke-width="1.1" stroke-opacity="0.85" stroke-linejoin="round" text-anchor="middle">0.02</text>
<text transform="translate(648.06,228.37) scale(1,1.08)" font-size="7.55" fill="#1E90FF" stroke="#1E90FF" stroke-width="0.08" text-anchor="middle">0.02</text>
<text transform="translate(648.38,241.59) scale(1,1.08)" font-size="7.55" fill="#fff" fill-opacity="0.85" stroke="#fff" stroke-width="1.1" stroke-opacity="0.85" stroke-linejoin="round" text-anchor="middle">0.03</text>
<text transform="translate(648.38,241.59) scale(1,1.08)" font-size="7.55" fill="#000080" stroke="#000080" stroke-width="0.08" text-anchor="middle">0.03</text>
<text transform="translate(648.38,254.82) scale(1,1.08)" font-size="7.55" fill="#fff" fill-opacity="0.85" stroke="#fff" stroke-width="1.1" stroke-opacity="0.85" stroke-linejoin="round" text-anchor="middle">0.03</text>
<text transform="translate(648.38,254.82) scale(1,1.08)" font-size="7.55" fill="#F4A09C" stroke="#F4A09C" stroke-width="0.08" text-anchor="middle">0.03</text>
<text transform="translate(648.71,268.05) scale(1,1.08)" font-size="7.55" fill="#fff" fill-opacity="0.85" stroke="#fff" stroke-width="1.1" stroke-opacity="0.85" stroke-linejoin="round" text-anchor="middle">0.04</text>
<text transform="translate(648.71,268.05) scale(1,1.08)" font-size="7.55" fill="#17BECF" stroke="#17BECF" stroke-width="0.08" text-anchor="middle">0.04</text>
<text transform="translate(649.37,281.28) scale(1,1.08)" font-size="7.55" fill="#fff" fill-opacity="0.85" stroke="#fff" stroke-width="1.1" stroke-opacity="0.85" stroke-linejoin="round" text-anchor="middle">0.06</text>
<text transform="translate(649.37,281.28) scale(1,1.08)" font-size="7.55" fill="#1ED41E" stroke="#1ED41E" stroke-width="0.08" text-anchor="middle">0.06</text>
<text transform="translate(649.37,294.50) scale(1,1.08)" font-size="7.55" fill="#fff" fill-opacity="0.85" stroke="#fff" stroke-width="1.1" stroke-opacity="0.85" stroke-linejoin="round" text-anchor="middle">0.06</text>
<text transform="translate(649.37,294.50) scale(1,1.08)" font-size="7.55" fill="#90EE90" stroke="#90EE90" stroke-width="0.08" text-anchor="middle">0.06</text>
<text transform="translate(649.70,307.73) scale(1,1.08)" font-size="7.55" fill="#fff" fill-opacity="0.85" stroke="#fff" stroke-width="1.1" stroke-opacity="0.85" stroke-linejoin="round" text-anchor="middle">0.07</text>
<text transform="translate(649.70,307.73) scale(1,1.08)" font-size="7.55" fill="#EEA020" stroke="#EEA020" stroke-width="0.08" text-anchor="middle">0.07</text>
<text transform="translate(650.02,320.96) scale(1,1.08)" font-size="7.55" fill="#fff" fill-opacity="0.85" stroke="#fff" stroke-width="1.1" stroke-opacity="0.85" stroke-linejoin="round" text-anchor="middle">0.08</text>
<text transform="translate(650.02,320.96) scale(1,1.08)" font-size="7.55" fill="#B5356A" stroke="#B5356A" stroke-width="0.08" text-anchor="middle">0.08</text>
<text transform="translate(651.08,334.18) scale(1,1.08)" font-size="7.55" fill="#fff" fill-opacity="0.85" stroke="#fff" stroke-width="1.1" stroke-opacity="0.85" stroke-linejoin="round" text-anchor="middle">0.1</text>
<text transform="translate(651.08,334.18) scale(1,1.08)" font-size="7.55" fill="#3A6B9E" stroke="#3A6B9E" stroke-width="0.08" text-anchor="middle">0.1</text>
<text transform="translate(651.66,347.41) scale(1,1.08)" font-size="7.55" fill="#fff" fill-opacity="0.85" stroke="#fff" stroke-width="1.1" stroke-opacity="0.85" stroke-linejoin="round" text-anchor="middle">0.13</text>
<text transform="translate(651.66,347.41) scale(1,1.08)" font-size="7.55" fill="#FF4444" stroke="#FF4444" stroke-width="0.08" text-anchor="middle">0.13</text>
<text transform="translate(651.99,360.64) scale(1,1.08)" font-size="7.55" fill="#fff" fill-opacity="0.85" stroke="#fff" stroke-width="1.1" stroke-opacity="0.85" stroke-linejoin="round" text-anchor="middle">0.14</text>
<text transform="translate(651.99,360.64) scale(1,1.08)" font-size="7.55" fill="#87CEFA" stroke="#87CEFA" stroke-width="0.08" text-anchor="middle">0.14</text>
<text transform="translate(663.47,373.86) scale(1,1.08)" font-size="7.55" fill="#fff" fill-opacity="0.85" stroke="#fff" stroke-width="1.1" stroke-opacity="0.85" stroke-linejoin="round" text-anchor="middle">0.49</text>
<text transform="translate(663.47,373.86) scale(1,1.08)" font-size="7.55" fill="#1A9A1A" stroke="#1A9A1A" stroke-width="0.08" text-anchor="middle">0.49</text>
<line x1="619.08" y1="18.44" x2="641.06" y2="18.44" stroke="#A82E30" stroke-width="0.9"/>
<circle cx="629.58" cy="18.44" r="1.9" fill="#A82E30"/>
<line x1="623.67" y1="31.66" x2="643.02" y2="31.66" stroke="#E31A1C" stroke-width="0.9"/>
<circle cx="632.86" cy="31.66" r="1.9" fill="#E31A1C"/>
<line x1="630.56" y1="44.89" x2="642.04" y2="44.89" stroke="#F7C600" stroke-width="0.9"/>
<circle cx="636.14" cy="44.89" r="1.9" fill="#F7C600"/>
<line x1="634.82" y1="58.12" x2="646.63" y2="58.12" stroke="#8B008B" stroke-width="0.9"/>
<circle cx="640.73" cy="58.12" r="1.9" fill="#8B008B"/>
<line x1="633.51" y1="71.34" x2="648.60" y2="71.34" stroke="#0000FF" stroke-width="0.9"/>
<circle cx="641.71" cy="71.34" r="1.9" fill="#0000FF"/>
<line x1="643.02" y1="84.57" x2="652.54" y2="84.57" stroke="#FF7F00" stroke-width="0.9"/>
<circle cx="646.96" cy="84.57" r="1.9" fill="#FF7F00"/>
<line x1="645.65" y1="97.80" x2="648.27" y2="97.80" stroke="#EE82EE" stroke-width="0.9"/>
<circle cx="646.96" cy="97.80" r="1.9" fill="#EE82EE"/>
<line x1="644.34" y1="111.02" x2="650.24" y2="111.02" stroke="#999999" stroke-width="0.9"/>
<circle cx="646.96" cy="111.02" r="1.9" fill="#999999"/>
<line x1="646.96" y1="124.25" x2="648.93" y2="124.25" stroke="#9ACD32" stroke-width="0.9"/>
<circle cx="647.94" cy="124.25" r="1.9" fill="#9ACD32"/>
<line x1="647.29" y1="137.48" x2="649.26" y2="137.48" stroke="#6A3D9A" stroke-width="0.9"/>
<circle cx="648.27" cy="137.48" r="1.9" fill="#6A3D9A"/>
<line x1="647.62" y1="150.71" x2="648.93" y2="150.71" stroke="#333333" stroke-width="0.9"/>
<circle cx="648.27" cy="150.71" r="1.9" fill="#333333"/>
<circle cx="648.60" cy="163.93" r="1.9" fill="#8B8B00"/>
<circle cx="648.60" cy="177.16" r="1.9" fill="#000000"/>
<circle cx="648.60" cy="190.39" r="1.9" fill="#E7298A"/>
<circle cx="648.60" cy="203.61" r="1.9" fill="#FDB863"/>
<line x1="648.60" y1="216.84" x2="649.26" y2="216.84" stroke="#8C510A" stroke-width="0.9"/>
<circle cx="648.93" cy="216.84" r="1.9" fill="#8C510A"/>
<line x1="642.04" y1="230.07" x2="656.80" y2="230.07" stroke="#1E90FF" stroke-width="0.9"/>
<circle cx="649.26" cy="230.07" r="1.9" fill="#1E90FF"/>
<line x1="648.93" y1="243.29" x2="650.24" y2="243.29" stroke="#000080" stroke-width="0.9"/>
<circle cx="649.58" cy="243.29" r="1.9" fill="#000080"/>
<line x1="648.93" y1="256.52" x2="650.24" y2="256.52" stroke="#F4A09C" stroke-width="0.9"/>
<circle cx="649.58" cy="256.52" r="1.9" fill="#F4A09C"/>
<line x1="649.26" y1="269.75" x2="650.57" y2="269.75" stroke="#17BECF" stroke-width="0.9"/>
<circle cx="649.91" cy="269.75" r="1.9" fill="#17BECF"/>
<line x1="649.91" y1="282.98" x2="651.22" y2="282.98" stroke="#1ED41E" stroke-width="0.9"/>
<circle cx="650.57" cy="282.98" r="1.9" fill="#1ED41E"/>
<line x1="645.32" y1="296.20" x2="655.16" y2="296.20" stroke="#90EE90" stroke-width="0.9"/>
<circle cx="650.57" cy="296.20" r="1.9" fill="#90EE90"/>
<line x1="649.58" y1="309.43" x2="652.21" y2="309.43" stroke="#EEA020" stroke-width="0.9"/>
<circle cx="650.90" cy="309.43" r="1.9" fill="#EEA020"/>
<line x1="650.24" y1="322.66" x2="652.21" y2="322.66" stroke="#B5356A" stroke-width="0.9"/>
<circle cx="651.22" cy="322.66" r="1.9" fill="#B5356A"/>
<line x1="645.32" y1="335.88" x2="658.44" y2="335.88" stroke="#3A6B9E" stroke-width="0.9"/>
<circle cx="651.88" cy="335.88" r="1.9" fill="#3A6B9E"/>
<line x1="651.55" y1="349.11" x2="654.18" y2="349.11" stroke="#FF4444" stroke-width="0.9"/>
<circle cx="652.86" cy="349.11" r="1.9" fill="#FF4444"/>
<line x1="650.57" y1="362.34" x2="658.44" y2="362.34" stroke="#87CEFA" stroke-width="0.9"/>
<circle cx="653.19" cy="362.34" r="1.9" fill="#87CEFA"/>
<line x1="653.52" y1="375.56" x2="674.51" y2="375.56" stroke="#1A9A1A" stroke-width="0.9"/>
<circle cx="664.67" cy="375.56" r="1.9" fill="#1A9A1A"/>
<text transform="translate(610.20,20.84) scale(1,1.06)" font-size="5.65" fill="#4d4d4d" stroke="#4d4d4d" stroke-width="0.15" text-anchor="end">Prop.Bras.</text>
<line x1="610.9" y1="18.44" x2="612.5" y2="18.44" stroke="#333" stroke-width="0.6"/>
<text transform="translate(610.20,34.06) scale(1,1.06)" font-size="5.65" fill="#4d4d4d" stroke="#4d4d4d" stroke-width="0.15" text-anchor="end">N.Families</text>
<line x1="610.9" y1="31.66" x2="612.5" y2="31.66" stroke="#333" stroke-width="0.6"/>
<text transform="translate(610.20,47.29) scale(1,1.06)" font-size="5.65" fill="#4d4d4d" stroke="#4d4d4d" stroke-width="0.15" text-anchor="end">Dominance</text>
<line x1="610.9" y1="44.89" x2="612.5" y2="44.89" stroke="#333" stroke-width="0.6"/>
<text transform="translate(610.20,60.52) scale(1,1.06)" font-size="5.65" fill="#4d4d4d" stroke="#4d4d4d" stroke-width="0.15" text-anchor="end">Prop.Spring</text>
<line x1="610.9" y1="58.12" x2="612.5" y2="58.12" stroke="#333" stroke-width="0.6"/>
<text transform="translate(610.20,73.74) scale(1,1.06)" font-size="5.65" fill="#4d4d4d" stroke="#4d4d4d" stroke-width="0.15" text-anchor="end">Proportional abundance</text>
<line x1="610.9" y1="71.34" x2="612.5" y2="71.34" stroke="#333" stroke-width="0.6"/>
<text transform="translate(610.20,86.97) scale(1,1.06)" font-size="5.65" fill="#4d4d4d" stroke="#4d4d4d" stroke-width="0.15" text-anchor="end">Prop.Poaceae</text>
<line x1="610.9" y1="84.57" x2="612.5" y2="84.57" stroke="#333" stroke-width="0.6"/>
<text transform="translate(610.20,100.20) scale(1,1.06)" font-size="5.65" fill="#4d4d4d" stroke="#4d4d4d" stroke-width="0.15" text-anchor="end">Cover crop</text>
<line x1="610.9" y1="97.80" x2="612.5" y2="97.80" stroke="#333" stroke-width="0.6"/>
<text transform="translate(610.20,113.42) scale(1,1.06)" font-size="5.65" fill="#4d4d4d" stroke="#4d4d4d" stroke-width="0.15" text-anchor="end">Prop.Autumn</text>
<line x1="610.9" y1="111.02" x2="612.5" y2="111.02" stroke="#333" stroke-width="0.6"/>
<text transform="translate(610.20,126.65) scale(1,1.06)" font-size="5.65" fill="#4d4d4d" stroke="#4d4d4d" stroke-width="0.15" text-anchor="end">Summer</text>
<line x1="610.9" y1="124.25" x2="612.5" y2="124.25" stroke="#333" stroke-width="0.6"/>
<text transform="translate(610.20,139.88) scale(1,1.06)" font-size="5.65" fill="#4d4d4d" stroke="#4d4d4d" stroke-width="0.15" text-anchor="end">Poaceae</text>
<line x1="610.9" y1="137.48" x2="612.5" y2="137.48" stroke="#333" stroke-width="0.6"/>
<text transform="translate(610.20,153.11) scale(1,1.06)" font-size="5.65" fill="#4d4d4d" stroke="#4d4d4d" stroke-width="0.15" text-anchor="end">Autumn</text>
<line x1="610.9" y1="150.71" x2="612.5" y2="150.71" stroke="#333" stroke-width="0.6"/>
<text transform="translate(610.20,166.33) scale(1,1.06)" font-size="5.65" fill="#4d4d4d" stroke="#4d4d4d" stroke-width="0.15" text-anchor="end">Prop.Winter</text>
<line x1="610.9" y1="163.93" x2="612.5" y2="163.93" stroke="#333" stroke-width="0.6"/>
<text transform="translate(610.20,179.56) scale(1,1.06)" font-size="5.65" fill="#4d4d4d" stroke="#4d4d4d" stroke-width="0.15" text-anchor="end">N.sowing.Seasons</text>
<line x1="610.9" y1="177.16" x2="612.5" y2="177.16" stroke="#333" stroke-width="0.6"/>
<text transform="translate(610.20,192.79) scale(1,1.06)" font-size="5.65" fill="#4d4d4d" stroke="#4d4d4d" stroke-width="0.15" text-anchor="end">Prop.Other</text>
<line x1="610.9" y1="190.39" x2="612.5" y2="190.39" stroke="#333" stroke-width="0.6"/>
<text transform="translate(610.20,206.01) scale(1,1.06)" font-size="5.65" fill="#4d4d4d" stroke="#4d4d4d" stroke-width="0.15" text-anchor="end">Evenness</text>
<line x1="610.9" y1="203.61" x2="612.5" y2="203.61" stroke="#333" stroke-width="0.6"/>
<text transform="translate(610.20,219.24) scale(1,1.06)" font-size="5.65" fill="#4d4d4d" stroke="#4d4d4d" stroke-width="0.15" text-anchor="end">Spring</text>
<line x1="610.9" y1="216.84" x2="612.5" y2="216.84" stroke="#333" stroke-width="0.6"/>
<text transform="translate(610.20,232.47) scale(1,1.06)" font-size="5.65" fill="#4d4d4d" stroke="#4d4d4d" stroke-width="0.15" text-anchor="end">Prop.Intercrop</text>
<line x1="610.9" y1="230.07" x2="612.5" y2="230.07" stroke="#333" stroke-width="0.6"/>
<text transform="translate(610.20,245.69) scale(1,1.06)" font-size="5.65" fill="#4d4d4d" stroke="#4d4d4d" stroke-width="0.15" text-anchor="end">Fabaceae</text>
<line x1="610.9" y1="243.29" x2="612.5" y2="243.29" stroke="#333" stroke-width="0.6"/>
<text transform="translate(610.20,258.92) scale(1,1.06)" font-size="5.65" fill="#4d4d4d" stroke="#4d4d4d" stroke-width="0.15" text-anchor="end">Other</text>
<line x1="610.9" y1="256.52" x2="612.5" y2="256.52" stroke="#333" stroke-width="0.6"/>
<text transform="translate(610.20,272.15) scale(1,1.06)" font-size="5.65" fill="#4d4d4d" stroke="#4d4d4d" stroke-width="0.15" text-anchor="end">Intercrop</text>
<line x1="610.9" y1="269.75" x2="612.5" y2="269.75" stroke="#333" stroke-width="0.6"/>
<text transform="translate(610.20,285.38) scale(1,1.06)" font-size="5.65" fill="#4d4d4d" stroke="#4d4d4d" stroke-width="0.15" text-anchor="end">T.grassland</text>
<line x1="610.9" y1="282.98" x2="612.5" y2="282.98" stroke="#333" stroke-width="0.6"/>
<text transform="translate(610.20,298.60) scale(1,1.06)" font-size="5.65" fill="#4d4d4d" stroke="#4d4d4d" stroke-width="0.15" text-anchor="end">Prop.T.grassland</text>
<line x1="610.9" y1="296.20" x2="612.5" y2="296.20" stroke="#333" stroke-width="0.6"/>
<text transform="translate(610.20,311.83) scale(1,1.06)" font-size="5.65" fill="#4d4d4d" stroke="#4d4d4d" stroke-width="0.15" text-anchor="end">Winter</text>
<line x1="610.9" y1="309.43" x2="612.5" y2="309.43" stroke="#333" stroke-width="0.6"/>
<text transform="translate(610.20,325.06) scale(1,1.06)" font-size="5.65" fill="#4d4d4d" stroke="#4d4d4d" stroke-width="0.15" text-anchor="end">Brassicaceae</text>
<line x1="610.9" y1="322.66" x2="612.5" y2="322.66" stroke="#333" stroke-width="0.6"/>
<text transform="translate(610.20,338.28) scale(1,1.06)" font-size="5.65" fill="#4d4d4d" stroke="#4d4d4d" stroke-width="0.15" text-anchor="end">Prop.Faba.</text>
<line x1="610.9" y1="335.88" x2="612.5" y2="335.88" stroke="#333" stroke-width="0.6"/>
<text transform="translate(610.20,351.51) scale(1,1.06)" font-size="5.65" fill="#4d4d4d" stroke="#4d4d4d" stroke-width="0.15" text-anchor="end">Prop.Cover crop</text>
<line x1="610.9" y1="349.11" x2="612.5" y2="349.11" stroke="#333" stroke-width="0.6"/>
<text transform="translate(610.20,364.74) scale(1,1.06)" font-size="5.65" fill="#4d4d4d" stroke="#4d4d4d" stroke-width="0.15" text-anchor="end">Prop.Summer</text>
<line x1="610.9" y1="362.34" x2="612.5" y2="362.34" stroke="#333" stroke-width="0.6"/>
<text transform="translate(610.20,377.96) scale(1,1.06)" font-size="5.65" fill="#4d4d4d" stroke="#4d4d4d" stroke-width="0.15" text-anchor="end">Richness</text>
<line x1="610.9" y1="375.56" x2="612.5" y2="375.56" stroke="#333" stroke-width="0.6"/>
<rect x="612" y="10" width="73" height="1" fill="#000" fill-opacity="0.247"/>
<rect x="612" y="10" width="1" height="374" fill="#000" fill-opacity="0.400"/>
<rect x="684" y="10" width="1" height="374" fill="#000" fill-opacity="0.533"/>
<rect x="612" y="383" width="73" height="1" fill="#000" fill-opacity="0.467"/>
<line x1="615.80" y1="383.5" x2="615.80" y2="385.5" stroke="#333" stroke-width="0.6"/>
<text transform="translate(615.80,390.40) scale(1,1.06)" font-size="5.65" fill="#4d4d4d" stroke="#4d4d4d" stroke-width="0.15" text-anchor="middle">−1.0</text>
<line x1="632.20" y1="383.5" x2="632.20" y2="385.5" stroke="#333" stroke-width="0.6"/>
<text transform="translate(632.20,390.40) scale(1,1.06)" font-size="5.65" fill="#4d4d4d" stroke="#4d4d4d" stroke-width="0.15" text-anchor="middle">−0.5</text>
<line x1="648.60" y1="383.5" x2="648.60" y2="385.5" stroke="#333" stroke-width="0.6"/>
<text transform="translate(648.60,390.40) scale(1,1.06)" font-size="5.65" fill="#4d4d4d" stroke="#4d4d4d" stroke-width="0.15" text-anchor="middle">0.0</text>
<line x1="665.00" y1="383.5" x2="665.00" y2="385.5" stroke="#333" stroke-width="0.6"/>
<text transform="translate(665.00,390.40) scale(1,1.06)" font-size="5.65" fill="#4d4d4d" stroke="#4d4d4d" stroke-width="0.15" text-anchor="middle">0.5</text>
<line x1="681.40" y1="383.5" x2="681.40" y2="385.5" stroke="#333" stroke-width="0.6"/>
<text transform="translate(681.40,390.40) scale(1,1.06)" font-size="5.65" fill="#4d4d4d" stroke="#4d4d4d" stroke-width="0.15" text-anchor="middle">1.0</text>
<text transform="translate(648.50,396.80) scale(1,1.18)" font-size="5.75" fill="#000" stroke="#000" stroke-width="0.05" text-anchor="middle">Coefficients of CDM<tspan font-size="4.2" dy="1" stroke-width="0.04">other</tspan></text>
<text x="612.50" y="8.1" font-size="8.6" font-weight="bold" fill="#000">e</text>
</svg></body></html>
